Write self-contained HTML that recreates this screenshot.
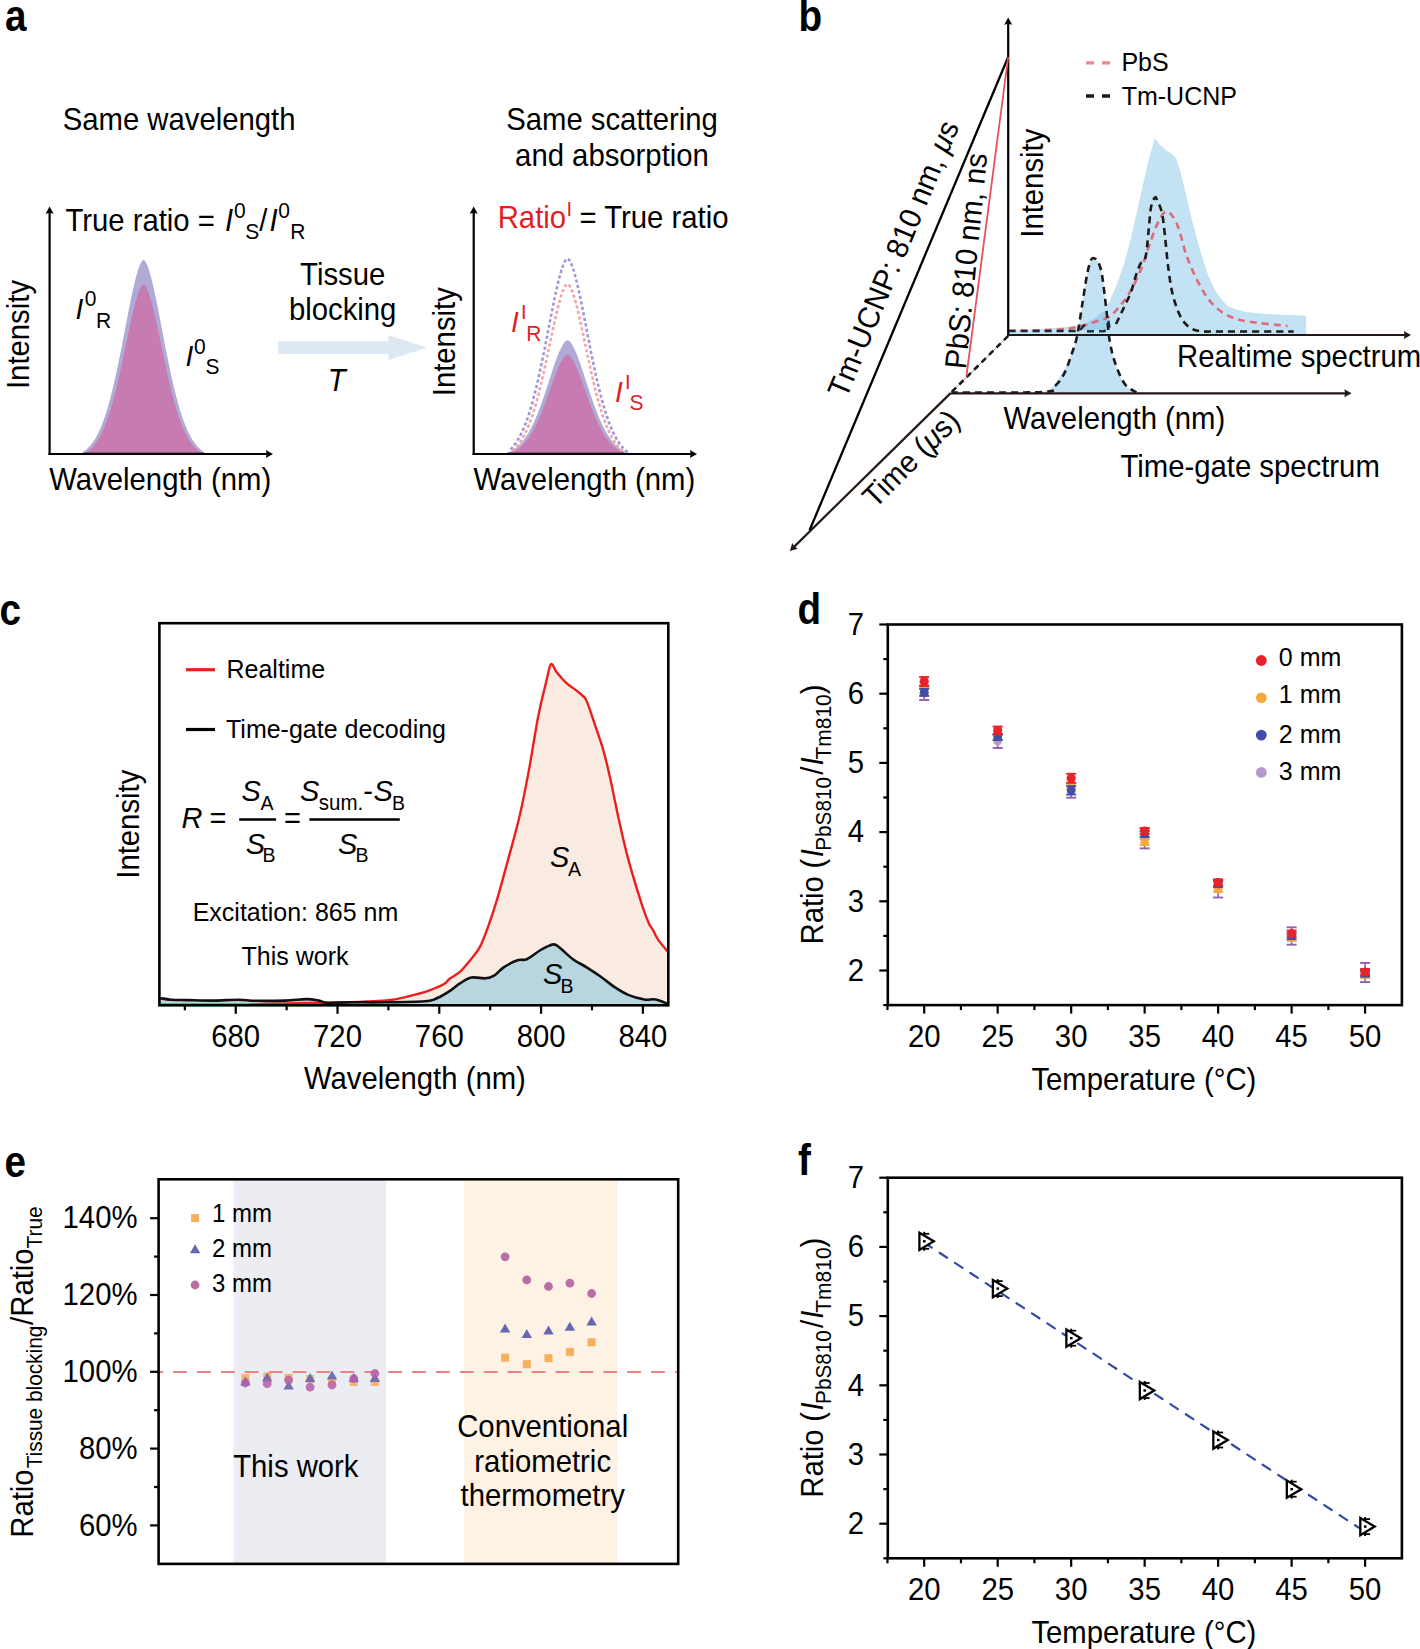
<!DOCTYPE html>
<html><head><meta charset="utf-8"><style>
html,body{margin:0;padding:0;background:#fff;overflow:hidden;}
svg{display:block;}
text{font-family:"Liberation Sans", sans-serif;}
</style></head><body>
<svg width="1420" height="1649" viewBox="0 0 1420 1649">
<rect width="1420" height="1649" fill="#fff"/>
<text x="5.00" y="31.30" font-size="42" font-weight="bold" transform="translate(5.00 31.30) scale(0.92 1.04) translate(-5.00 -31.30)">a</text>
<text x="798.50" y="30.50" font-size="42" font-weight="bold" transform="translate(798.50 30.50) scale(0.92 1.04) translate(-798.50 -30.50)">b</text>
<text x="-0.50" y="625.50" font-size="42" font-weight="bold" transform="translate(-0.50 625.50) scale(0.92 1.04) translate(0.50 -625.50)">c</text>
<text x="797.50" y="623.80" font-size="42" font-weight="bold" transform="translate(797.50 623.80) scale(0.92 1.04) translate(-797.50 -623.80)">d</text>
<text x="4.50" y="1176.80" font-size="42" font-weight="bold" transform="translate(4.50 1176.80) scale(0.92 1.04) translate(-4.50 -1176.80)">e</text>
<text x="798.00" y="1175.10" font-size="42" font-weight="bold" transform="translate(798.00 1175.10) scale(0.92 1.04) translate(-798.00 -1175.10)">f</text>
<path d="M79.50,454.20 C79.74,454.08 80.45,453.72 80.92,453.46 C81.40,453.20 81.87,452.92 82.34,452.62 C82.82,452.32 83.29,452.01 83.77,451.67 C84.24,451.34 84.71,450.99 85.19,450.61 C85.66,450.23 86.14,449.83 86.61,449.41 C87.09,448.99 87.56,448.54 88.03,448.07 C88.51,447.60 88.98,447.10 89.46,446.57 C89.93,446.04 90.40,445.49 90.88,444.90 C91.35,444.32 91.83,443.70 92.30,443.05 C92.77,442.40 93.25,441.72 93.72,441.00 C94.20,440.28 94.67,439.53 95.14,438.74 C95.62,437.95 96.09,437.12 96.57,436.26 C97.04,435.39 97.51,434.48 97.99,433.53 C98.46,432.58 98.94,431.59 99.41,430.55 C99.89,429.52 100.36,428.44 100.83,427.31 C101.31,426.18 101.78,425.01 102.26,423.79 C102.73,422.57 103.20,421.31 103.68,419.99 C104.15,418.67 104.63,417.30 105.10,415.89 C105.57,414.47 106.05,413.00 106.52,411.48 C107.00,409.97 107.47,408.40 107.94,406.77 C108.42,405.15 108.89,403.48 109.37,401.76 C109.84,400.03 110.31,398.26 110.79,396.43 C111.26,394.61 111.74,392.73 112.21,390.80 C112.69,388.88 113.16,386.90 113.63,384.88 C114.11,382.86 114.58,380.79 115.06,378.68 C115.53,376.56 116.00,374.40 116.48,372.21 C116.95,370.01 117.43,367.77 117.90,365.49 C118.37,363.22 118.85,360.90 119.32,358.56 C119.80,356.22 120.27,353.84 120.74,351.44 C121.22,349.05 121.69,346.62 122.17,344.18 C122.64,341.74 123.11,339.27 123.59,336.81 C124.06,334.34 124.54,331.86 125.01,329.38 C125.49,326.91 125.96,324.42 126.43,321.95 C126.91,319.48 127.38,317.02 127.86,314.58 C128.33,312.14 128.80,309.71 129.28,307.33 C129.75,304.94 130.23,302.58 130.70,300.27 C131.17,297.96 131.65,295.68 132.12,293.48 C132.60,291.27 133.07,289.11 133.54,287.03 C134.02,284.96 134.49,282.94 134.97,281.02 C135.44,279.11 135.91,277.26 136.39,275.54 C136.86,273.81 137.34,272.18 137.81,270.68 C138.29,269.18 138.76,267.78 139.23,266.54 C139.71,265.31 140.18,264.18 140.66,263.26 C141.13,262.33 141.60,261.52 142.08,260.98 C142.55,260.44 143.03,260.00 143.50,260.00 C143.97,260.00 144.45,260.44 144.92,260.98 C145.40,261.52 145.87,262.33 146.34,263.26 C146.82,264.18 147.29,265.31 147.77,266.54 C148.24,267.78 148.71,269.18 149.19,270.68 C149.66,272.18 150.14,273.81 150.61,275.54 C151.09,277.26 151.56,279.11 152.03,281.02 C152.51,282.94 152.98,284.96 153.46,287.03 C153.93,289.11 154.40,291.27 154.88,293.48 C155.35,295.68 155.83,297.96 156.30,300.27 C156.77,302.58 157.25,304.94 157.72,307.33 C158.20,309.71 158.67,312.14 159.14,314.58 C159.62,317.02 160.09,319.48 160.57,321.95 C161.04,324.42 161.51,326.91 161.99,329.38 C162.46,331.86 162.94,334.34 163.41,336.81 C163.89,339.27 164.36,341.74 164.83,344.18 C165.31,346.62 165.78,349.05 166.26,351.44 C166.73,353.84 167.20,356.22 167.68,358.56 C168.15,360.90 168.63,363.22 169.10,365.49 C169.57,367.77 170.05,370.01 170.52,372.21 C171.00,374.40 171.47,376.56 171.94,378.68 C172.42,380.79 172.89,382.86 173.37,384.88 C173.84,386.90 174.31,388.88 174.79,390.80 C175.26,392.73 175.74,394.61 176.21,396.43 C176.69,398.26 177.16,400.03 177.63,401.76 C178.11,403.48 178.58,405.15 179.06,406.77 C179.53,408.40 180.00,409.97 180.48,411.48 C180.95,413.00 181.43,414.47 181.90,415.89 C182.37,417.30 182.85,418.67 183.32,419.99 C183.80,421.31 184.27,422.57 184.74,423.79 C185.22,425.01 185.69,426.18 186.17,427.31 C186.64,428.44 187.11,429.52 187.59,430.55 C188.06,431.59 188.54,432.58 189.01,433.53 C189.49,434.48 189.96,435.39 190.43,436.26 C190.91,437.12 191.38,437.95 191.86,438.74 C192.33,439.53 192.80,440.28 193.28,441.00 C193.75,441.72 194.23,442.40 194.70,443.05 C195.17,443.70 195.65,444.32 196.12,444.90 C196.60,445.49 197.07,446.04 197.54,446.57 C198.02,447.10 198.49,447.60 198.97,448.07 C199.44,448.54 199.91,448.99 200.39,449.41 C200.86,449.83 201.34,450.23 201.81,450.61 C202.29,450.99 202.76,451.34 203.23,451.67 C203.71,452.01 204.18,452.32 204.66,452.62 C205.13,452.92 205.60,453.20 206.08,453.46 C206.55,453.72 207.26,454.08 207.50,454.20 Z" fill="#AFAAD6" stroke="none" stroke-width="2"/>
<path d="M83.50,454.20 C83.72,454.08 84.39,453.73 84.83,453.48 C85.28,453.22 85.72,452.95 86.17,452.66 C86.61,452.37 87.06,452.07 87.50,451.75 C87.94,451.43 88.39,451.09 88.83,450.72 C89.28,450.36 89.72,449.98 90.17,449.58 C90.61,449.18 91.06,448.75 91.50,448.31 C91.94,447.86 92.39,447.39 92.83,446.89 C93.28,446.39 93.72,445.87 94.17,445.32 C94.61,444.77 95.06,444.20 95.50,443.59 C95.94,442.99 96.39,442.35 96.83,441.69 C97.28,441.02 97.72,440.32 98.17,439.59 C98.61,438.86 99.06,438.10 99.50,437.30 C99.94,436.50 100.39,435.67 100.83,434.80 C101.28,433.93 101.72,433.03 102.17,432.09 C102.61,431.14 103.06,430.16 103.50,429.14 C103.94,428.12 104.39,427.06 104.83,425.95 C105.28,424.85 105.72,423.71 106.17,422.53 C106.61,421.34 107.06,420.12 107.50,418.85 C107.94,417.58 108.39,416.27 108.83,414.91 C109.28,413.56 109.72,412.16 110.17,410.72 C110.61,409.28 111.06,407.80 111.50,406.27 C111.94,404.75 112.39,403.18 112.83,401.57 C113.28,399.96 113.72,398.30 114.17,396.61 C114.61,394.92 115.06,393.19 115.50,391.42 C115.94,389.65 116.39,387.84 116.83,385.99 C117.28,384.15 117.72,382.27 118.17,380.35 C118.61,378.44 119.06,376.49 119.50,374.52 C119.94,372.55 120.39,370.54 120.83,368.52 C121.28,366.49 121.72,364.44 122.17,362.37 C122.61,360.31 123.06,358.21 123.50,356.12 C123.94,354.02 124.39,351.90 124.83,349.78 C125.28,347.67 125.72,345.54 126.17,343.42 C126.61,341.30 127.06,339.18 127.50,337.07 C127.94,334.96 128.39,332.86 128.83,330.78 C129.28,328.70 129.72,326.64 130.17,324.61 C130.61,322.58 131.06,320.57 131.50,318.61 C131.94,316.65 132.39,314.72 132.83,312.85 C133.28,310.98 133.72,309.15 134.17,307.40 C134.61,305.64 135.06,303.94 135.50,302.32 C135.94,300.70 136.39,299.14 136.83,297.69 C137.28,296.23 137.72,294.85 138.17,293.59 C138.61,292.32 139.06,291.15 139.50,290.10 C139.94,289.06 140.39,288.12 140.83,287.34 C141.28,286.56 141.72,285.88 142.17,285.42 C142.61,284.97 143.06,284.60 143.50,284.60 C143.94,284.60 144.39,284.97 144.83,285.42 C145.28,285.88 145.72,286.56 146.17,287.34 C146.61,288.12 147.06,289.06 147.50,290.10 C147.94,291.15 148.39,292.32 148.83,293.59 C149.28,294.85 149.72,296.23 150.17,297.69 C150.61,299.14 151.06,300.70 151.50,302.32 C151.94,303.94 152.39,305.64 152.83,307.40 C153.28,309.15 153.72,310.98 154.17,312.85 C154.61,314.72 155.06,316.65 155.50,318.61 C155.94,320.57 156.39,322.58 156.83,324.61 C157.28,326.64 157.72,328.70 158.17,330.78 C158.61,332.86 159.06,334.96 159.50,337.07 C159.94,339.18 160.39,341.30 160.83,343.42 C161.28,345.54 161.72,347.67 162.17,349.78 C162.61,351.90 163.06,354.02 163.50,356.12 C163.94,358.21 164.39,360.31 164.83,362.37 C165.28,364.44 165.72,366.49 166.17,368.52 C166.61,370.54 167.06,372.55 167.50,374.52 C167.94,376.49 168.39,378.44 168.83,380.35 C169.28,382.27 169.72,384.15 170.17,385.99 C170.61,387.84 171.06,389.65 171.50,391.42 C171.94,393.19 172.39,394.92 172.83,396.61 C173.28,398.30 173.72,399.96 174.17,401.57 C174.61,403.18 175.06,404.75 175.50,406.27 C175.94,407.80 176.39,409.28 176.83,410.72 C177.28,412.16 177.72,413.56 178.17,414.91 C178.61,416.27 179.06,417.58 179.50,418.85 C179.94,420.12 180.39,421.34 180.83,422.53 C181.28,423.71 181.72,424.85 182.17,425.95 C182.61,427.06 183.06,428.12 183.50,429.14 C183.94,430.16 184.39,431.14 184.83,432.09 C185.28,433.03 185.72,433.93 186.17,434.80 C186.61,435.67 187.06,436.50 187.50,437.30 C187.94,438.10 188.39,438.86 188.83,439.59 C189.28,440.32 189.72,441.02 190.17,441.69 C190.61,442.35 191.06,442.99 191.50,443.59 C191.94,444.20 192.39,444.77 192.83,445.32 C193.28,445.87 193.72,446.39 194.17,446.89 C194.61,447.39 195.06,447.86 195.50,448.31 C195.94,448.75 196.39,449.18 196.83,449.58 C197.28,449.98 197.72,450.36 198.17,450.72 C198.61,451.09 199.06,451.43 199.50,451.75 C199.94,452.07 200.39,452.37 200.83,452.66 C201.28,452.95 201.72,453.22 202.17,453.48 C202.61,453.73 203.28,454.08 203.50,454.20 Z" fill="#C87BB1" stroke="none" stroke-width="2"/>
<path d="M503.50,454.20 C503.74,454.13 504.45,453.92 504.92,453.77 C505.40,453.61 505.87,453.45 506.34,453.27 C506.82,453.10 507.29,452.91 507.77,452.72 C508.24,452.52 508.71,452.31 509.19,452.09 C509.66,451.87 510.14,451.64 510.61,451.39 C511.09,451.14 511.56,450.88 512.03,450.60 C512.51,450.32 512.98,450.03 513.46,449.72 C513.93,449.41 514.40,449.09 514.88,448.74 C515.35,448.40 515.83,448.04 516.30,447.66 C516.77,447.27 517.25,446.87 517.72,446.45 C518.20,446.03 518.67,445.59 519.14,445.13 C519.62,444.66 520.09,444.18 520.57,443.67 C521.04,443.16 521.51,442.62 521.99,442.07 C522.46,441.51 522.94,440.93 523.41,440.32 C523.89,439.71 524.36,439.08 524.83,438.42 C525.31,437.75 525.78,437.07 526.26,436.35 C526.73,435.63 527.20,434.89 527.68,434.12 C528.15,433.34 528.63,432.54 529.10,431.71 C529.57,430.88 530.05,430.02 530.52,429.12 C531.00,428.23 531.47,427.31 531.94,426.36 C532.42,425.41 532.89,424.43 533.37,423.41 C533.84,422.40 534.31,421.36 534.79,420.29 C535.26,419.22 535.74,418.11 536.21,416.98 C536.69,415.85 537.16,414.69 537.63,413.51 C538.11,412.32 538.58,411.11 539.06,409.87 C539.53,408.63 540.00,407.36 540.48,406.07 C540.95,404.78 541.43,403.46 541.90,402.13 C542.37,400.79 542.85,399.43 543.32,398.06 C543.80,396.68 544.27,395.29 544.74,393.88 C545.22,392.47 545.69,391.05 546.17,389.61 C546.64,388.18 547.11,386.74 547.59,385.29 C548.06,383.84 548.54,382.38 549.01,380.93 C549.49,379.47 549.96,378.02 550.43,376.57 C550.91,375.12 551.38,373.67 551.86,372.24 C552.33,370.81 552.80,369.38 553.28,367.98 C553.75,366.58 554.23,365.19 554.70,363.84 C555.17,362.48 555.65,361.15 556.12,359.85 C556.60,358.56 557.07,357.29 557.54,356.07 C558.02,354.85 558.49,353.67 558.97,352.54 C559.44,351.42 559.91,350.33 560.39,349.32 C560.86,348.31 561.34,347.35 561.81,346.47 C562.29,345.59 562.76,344.77 563.23,344.04 C563.71,343.31 564.18,342.66 564.66,342.11 C565.13,341.57 565.60,341.09 566.08,340.78 C566.55,340.46 567.03,340.20 567.50,340.20 C567.97,340.20 568.45,340.46 568.92,340.78 C569.40,341.09 569.87,341.57 570.34,342.11 C570.82,342.66 571.29,343.31 571.77,344.04 C572.24,344.77 572.71,345.59 573.19,346.47 C573.66,347.35 574.14,348.31 574.61,349.32 C575.09,350.33 575.56,351.42 576.03,352.54 C576.51,353.67 576.98,354.85 577.46,356.07 C577.93,357.29 578.40,358.56 578.88,359.85 C579.35,361.15 579.83,362.48 580.30,363.84 C580.77,365.19 581.25,366.58 581.72,367.98 C582.20,369.38 582.67,370.81 583.14,372.24 C583.62,373.67 584.09,375.12 584.57,376.57 C585.04,378.02 585.51,379.47 585.99,380.93 C586.46,382.38 586.94,383.84 587.41,385.29 C587.89,386.74 588.36,388.18 588.83,389.61 C589.31,391.05 589.78,392.47 590.26,393.88 C590.73,395.29 591.20,396.68 591.68,398.06 C592.15,399.43 592.63,400.79 593.10,402.13 C593.57,403.46 594.05,404.78 594.52,406.07 C595.00,407.36 595.47,408.63 595.94,409.87 C596.42,411.11 596.89,412.32 597.37,413.51 C597.84,414.69 598.31,415.85 598.79,416.98 C599.26,418.11 599.74,419.22 600.21,420.29 C600.69,421.36 601.16,422.40 601.63,423.41 C602.11,424.43 602.58,425.41 603.06,426.36 C603.53,427.31 604.00,428.23 604.48,429.12 C604.95,430.02 605.43,430.88 605.90,431.71 C606.37,432.54 606.85,433.34 607.32,434.12 C607.80,434.89 608.27,435.63 608.74,436.35 C609.22,437.07 609.69,437.75 610.17,438.42 C610.64,439.08 611.11,439.71 611.59,440.32 C612.06,440.93 612.54,441.51 613.01,442.07 C613.49,442.62 613.96,443.16 614.43,443.67 C614.91,444.18 615.38,444.66 615.86,445.13 C616.33,445.59 616.80,446.03 617.28,446.45 C617.75,446.87 618.23,447.27 618.70,447.66 C619.17,448.04 619.65,448.40 620.12,448.74 C620.60,449.09 621.07,449.41 621.54,449.72 C622.02,450.03 622.49,450.32 622.97,450.60 C623.44,450.88 623.91,451.14 624.39,451.39 C624.86,451.64 625.34,451.87 625.81,452.09 C626.29,452.31 626.76,452.52 627.23,452.72 C627.71,452.91 628.18,453.10 628.66,453.27 C629.13,453.45 629.60,453.61 630.08,453.77 C630.55,453.92 631.26,454.13 631.50,454.20 Z" fill="#AFAAD6" stroke="none" stroke-width="2"/>
<path d="M507.50,454.20 C507.72,454.13 508.39,453.93 508.83,453.78 C509.28,453.63 509.72,453.47 510.17,453.30 C510.61,453.13 511.06,452.95 511.50,452.76 C511.94,452.57 512.39,452.37 512.83,452.16 C513.28,451.95 513.72,451.73 514.17,451.49 C514.61,451.26 515.06,451.01 515.50,450.75 C515.94,450.48 516.39,450.21 516.83,449.92 C517.28,449.62 517.72,449.32 518.17,449.00 C518.61,448.67 519.06,448.34 519.50,447.98 C519.94,447.63 520.39,447.26 520.83,446.87 C521.28,446.47 521.72,446.07 522.17,445.64 C522.61,445.21 523.06,444.76 523.50,444.30 C523.94,443.83 524.39,443.34 524.83,442.83 C525.28,442.32 525.72,441.79 526.17,441.24 C526.61,440.69 527.06,440.11 527.50,439.51 C527.94,438.91 528.39,438.29 528.83,437.65 C529.28,437.00 529.72,436.33 530.17,435.64 C530.61,434.94 531.06,434.22 531.50,433.48 C531.94,432.74 532.39,431.97 532.83,431.17 C533.28,430.38 533.72,429.56 534.17,428.72 C534.61,427.87 535.06,427.00 535.50,426.11 C535.94,425.22 536.39,424.30 536.83,423.35 C537.28,422.41 537.72,421.44 538.17,420.45 C538.61,419.46 539.06,418.44 539.50,417.40 C539.94,416.37 540.39,415.31 540.83,414.22 C541.28,413.14 541.72,412.04 542.17,410.92 C542.61,409.80 543.06,408.66 543.50,407.50 C543.94,406.35 544.39,405.17 544.83,403.98 C545.28,402.80 545.72,401.59 546.17,400.38 C546.61,399.17 547.06,397.94 547.50,396.71 C547.94,395.48 548.39,394.24 548.83,393.00 C549.28,391.76 549.72,390.52 550.17,389.27 C550.61,388.03 551.06,386.79 551.50,385.55 C551.94,384.32 552.39,383.08 552.83,381.87 C553.28,380.65 553.72,379.44 554.17,378.25 C554.61,377.06 555.06,375.88 555.50,374.73 C555.94,373.59 556.39,372.45 556.83,371.36 C557.28,370.26 557.72,369.19 558.17,368.16 C558.61,367.13 559.06,366.13 559.50,365.18 C559.94,364.24 560.39,363.32 560.83,362.47 C561.28,361.62 561.72,360.81 562.17,360.07 C562.61,359.33 563.06,358.64 563.50,358.03 C563.94,357.42 564.39,356.86 564.83,356.41 C565.28,355.95 565.72,355.55 566.17,355.28 C566.61,355.02 567.06,354.80 567.50,354.80 C567.94,354.80 568.39,355.02 568.83,355.28 C569.28,355.55 569.72,355.95 570.17,356.41 C570.61,356.86 571.06,357.42 571.50,358.03 C571.94,358.64 572.39,359.33 572.83,360.07 C573.28,360.81 573.72,361.62 574.17,362.47 C574.61,363.32 575.06,364.24 575.50,365.18 C575.94,366.13 576.39,367.13 576.83,368.16 C577.28,369.19 577.72,370.26 578.17,371.36 C578.61,372.45 579.06,373.59 579.50,374.73 C579.94,375.88 580.39,377.06 580.83,378.25 C581.28,379.44 581.72,380.65 582.17,381.87 C582.61,383.08 583.06,384.32 583.50,385.55 C583.94,386.79 584.39,388.03 584.83,389.27 C585.28,390.52 585.72,391.76 586.17,393.00 C586.61,394.24 587.06,395.48 587.50,396.71 C587.94,397.94 588.39,399.17 588.83,400.38 C589.28,401.59 589.72,402.80 590.17,403.98 C590.61,405.17 591.06,406.35 591.50,407.50 C591.94,408.66 592.39,409.80 592.83,410.92 C593.28,412.04 593.72,413.14 594.17,414.22 C594.61,415.31 595.06,416.37 595.50,417.40 C595.94,418.44 596.39,419.46 596.83,420.45 C597.28,421.44 597.72,422.41 598.17,423.35 C598.61,424.30 599.06,425.22 599.50,426.11 C599.94,427.00 600.39,427.87 600.83,428.72 C601.28,429.56 601.72,430.38 602.17,431.17 C602.61,431.97 603.06,432.74 603.50,433.48 C603.94,434.22 604.39,434.94 604.83,435.64 C605.28,436.33 605.72,437.00 606.17,437.65 C606.61,438.29 607.06,438.91 607.50,439.51 C607.94,440.11 608.39,440.69 608.83,441.24 C609.28,441.79 609.72,442.32 610.17,442.83 C610.61,443.34 611.06,443.83 611.50,444.30 C611.94,444.76 612.39,445.21 612.83,445.64 C613.28,446.07 613.72,446.47 614.17,446.87 C614.61,447.26 615.06,447.63 615.50,447.98 C615.94,448.34 616.39,448.67 616.83,449.00 C617.28,449.32 617.72,449.62 618.17,449.92 C618.61,450.21 619.06,450.48 619.50,450.75 C619.94,451.01 620.39,451.26 620.83,451.49 C621.28,451.73 621.72,451.95 622.17,452.16 C622.61,452.37 623.06,452.57 623.50,452.76 C623.94,452.95 624.39,453.13 624.83,453.30 C625.28,453.47 625.72,453.63 626.17,453.78 C626.61,453.93 627.28,454.13 627.50,454.20 Z" fill="#C87BB1" stroke="none" stroke-width="2"/>
<line x1="83.50" y1="453.40" x2="203.50" y2="453.40" stroke="#5B2A5A" stroke-width="1.6"/>
<line x1="507.50" y1="453.40" x2="627.50" y2="453.40" stroke="#5B2A5A" stroke-width="1.6"/>
<path d="M510.50,449.45 C510.72,449.22 511.39,448.55 511.83,448.06 C512.28,447.57 512.72,447.06 513.17,446.53 C513.61,445.99 514.06,445.43 514.50,444.84 C514.94,444.25 515.39,443.64 515.83,442.99 C516.28,442.35 516.72,441.68 517.17,440.97 C517.61,440.27 518.06,439.53 518.50,438.76 C518.94,437.99 519.39,437.19 519.83,436.36 C520.28,435.52 520.72,434.65 521.17,433.75 C521.61,432.84 522.06,431.90 522.50,430.92 C522.94,429.94 523.39,428.92 523.83,427.87 C524.28,426.81 524.72,425.72 525.17,424.58 C525.61,423.44 526.06,422.27 526.50,421.05 C526.94,419.83 527.39,418.57 527.83,417.27 C528.28,415.97 528.72,414.63 529.17,413.24 C529.61,411.85 530.06,410.43 530.50,408.95 C530.94,407.48 531.39,405.96 531.83,404.40 C532.28,402.85 532.72,401.24 533.17,399.60 C533.61,397.95 534.06,396.26 534.50,394.53 C534.94,392.80 535.39,391.03 535.83,389.22 C536.28,387.40 536.72,385.55 537.17,383.66 C537.61,381.76 538.06,379.83 538.50,377.86 C538.94,375.89 539.39,373.89 539.83,371.85 C540.28,369.81 540.72,367.73 541.17,365.63 C541.61,363.53 542.06,361.39 542.50,359.23 C542.94,357.07 543.39,354.88 543.83,352.67 C544.28,350.47 544.72,348.23 545.17,345.99 C545.61,343.74 546.06,341.47 546.50,339.20 C546.94,336.93 547.39,334.64 547.83,332.35 C548.28,330.06 548.72,327.77 549.17,325.48 C549.61,323.19 550.06,320.90 550.50,318.63 C550.94,316.36 551.39,314.09 551.83,311.85 C552.28,309.61 552.72,307.38 553.17,305.19 C553.61,303.00 554.06,300.82 554.50,298.70 C554.94,296.58 555.39,294.48 555.83,292.45 C556.28,290.41 556.72,288.42 557.17,286.49 C557.61,284.56 558.06,282.69 558.50,280.89 C558.94,279.10 559.39,277.36 559.83,275.73 C560.28,274.09 560.72,272.52 561.17,271.06 C561.61,269.60 562.06,268.23 562.50,266.98 C562.94,265.73 563.39,264.58 563.83,263.57 C564.28,262.56 564.72,261.66 565.17,260.93 C565.61,260.21 566.06,259.57 566.50,259.21 C566.94,258.85 567.39,258.65 567.83,258.78 C568.28,258.90 568.72,259.38 569.17,259.95 C569.61,260.51 570.06,261.27 570.50,262.15 C570.94,263.02 571.39,264.05 571.83,265.18 C572.28,266.32 572.72,267.59 573.17,268.94 C573.61,270.30 574.06,271.77 574.50,273.33 C574.94,274.88 575.39,276.53 575.83,278.25 C576.28,279.97 576.72,281.78 577.17,283.64 C577.61,285.51 578.06,287.45 578.50,289.43 C578.94,291.41 579.39,293.46 579.83,295.54 C580.28,297.62 580.72,299.76 581.17,301.92 C581.61,304.08 582.06,306.28 582.50,308.50 C582.94,310.72 583.39,312.97 583.83,315.23 C584.28,317.49 584.72,319.77 585.17,322.05 C585.61,324.33 586.06,326.63 586.50,328.92 C586.94,331.20 587.39,333.50 587.83,335.78 C588.28,338.06 588.72,340.34 589.17,342.60 C589.61,344.86 590.06,347.12 590.50,349.34 C590.94,351.57 591.39,353.78 591.83,355.97 C592.28,358.15 592.72,360.32 593.17,362.45 C593.61,364.58 594.06,366.69 594.50,368.76 C594.94,370.83 595.39,372.88 595.83,374.88 C596.28,376.88 596.72,378.86 597.17,380.79 C597.61,382.72 598.06,384.61 598.50,386.47 C598.94,388.32 599.39,390.13 599.83,391.91 C600.28,393.68 600.72,395.41 601.17,397.10 C601.61,398.78 602.06,400.43 602.50,402.03 C602.94,403.64 603.39,405.19 603.83,406.71 C604.28,408.23 604.72,409.70 605.17,411.13 C605.61,412.56 606.06,413.95 606.50,415.29 C606.94,416.63 607.39,417.93 607.83,419.19 C608.28,420.45 608.72,421.67 609.17,422.85 C609.61,424.02 610.06,425.16 610.50,426.25 C610.94,427.35 611.39,428.40 611.83,429.42 C612.28,430.44 612.72,431.42 613.17,432.36 C613.61,433.30 614.06,434.21 614.50,435.08 C614.94,435.95 615.39,436.78 615.83,437.58 C616.28,438.39 616.72,439.15 617.17,439.89 C617.61,440.63 618.06,441.33 618.50,442.01 C618.94,442.68 619.39,443.32 619.83,443.94 C620.28,444.56 620.72,445.14 621.17,445.71 C621.61,446.27 622.06,446.80 622.50,447.31 C622.94,447.82 623.39,448.31 623.83,448.77 C624.28,449.24 624.72,449.67 625.17,450.09 C625.61,450.51 626.06,450.91 626.50,451.29 C626.94,451.67 627.39,452.02 627.83,452.36 C628.28,452.70 628.72,453.03 629.17,453.33 C629.61,453.64 630.28,454.06 630.50,454.20" fill="none" stroke="#9D98D8" stroke-width="2.6" stroke-dasharray="3.2 2.4"/>
<path d="M512.50,450.84 C512.71,450.65 513.36,450.11 513.79,449.72 C514.22,449.33 514.65,448.92 515.08,448.48 C515.51,448.05 515.94,447.59 516.37,447.11 C516.80,446.63 517.23,446.13 517.66,445.60 C518.09,445.07 518.51,444.52 518.94,443.94 C519.37,443.36 519.80,442.75 520.23,442.12 C520.66,441.48 521.09,440.82 521.52,440.12 C521.95,439.43 522.38,438.71 522.81,437.95 C523.24,437.19 523.67,436.41 524.10,435.59 C524.53,434.77 524.96,433.91 525.39,433.02 C525.82,432.13 526.25,431.21 526.68,430.25 C527.11,429.29 527.54,428.30 527.97,427.26 C528.40,426.23 528.83,425.16 529.26,424.05 C529.69,422.95 530.11,421.80 530.54,420.61 C530.97,419.43 531.40,418.20 531.83,416.94 C532.26,415.68 532.69,414.37 533.12,413.03 C533.55,411.69 533.98,410.31 534.41,408.89 C534.84,407.46 535.27,406.00 535.70,404.50 C536.13,403.00 536.56,401.46 536.99,399.89 C537.42,398.31 537.85,396.69 538.28,395.04 C538.71,393.39 539.14,391.70 539.57,389.98 C540.00,388.26 540.43,386.50 540.86,384.71 C541.29,382.92 541.71,381.10 542.14,379.25 C542.57,377.40 543.00,375.52 543.43,373.61 C543.86,371.71 544.29,369.77 544.72,367.82 C545.15,365.87 545.58,363.89 546.01,361.90 C546.44,359.91 546.87,357.89 547.30,355.88 C547.73,353.86 548.16,351.82 548.59,349.79 C549.02,347.75 549.45,345.70 549.88,343.66 C550.31,341.63 550.74,339.58 551.17,337.55 C551.60,335.52 552.03,333.49 552.46,331.49 C552.89,329.48 553.31,327.49 553.74,325.53 C554.17,323.56 554.60,321.62 555.03,319.71 C555.46,317.81 555.89,315.93 556.32,314.10 C556.75,312.28 557.18,310.48 557.61,308.75 C558.04,307.02 558.47,305.34 558.90,303.73 C559.33,302.12 559.76,300.56 560.19,299.09 C560.62,297.62 561.05,296.21 561.48,294.90 C561.91,293.60 562.34,292.37 562.77,291.25 C563.20,290.13 563.63,289.10 564.06,288.21 C564.49,287.31 564.91,286.51 565.34,285.87 C565.77,285.24 566.20,284.68 566.63,284.39 C567.06,284.09 567.49,283.97 567.92,284.11 C568.35,284.26 568.78,284.72 569.21,285.26 C569.64,285.79 570.07,286.51 570.50,287.32 C570.93,288.13 571.36,289.08 571.79,290.13 C572.22,291.17 572.65,292.34 573.08,293.58 C573.51,294.82 573.94,296.17 574.37,297.59 C574.80,299.01 575.23,300.52 575.66,302.08 C576.09,303.65 576.51,305.29 576.94,306.98 C577.37,308.67 577.80,310.43 578.23,312.23 C578.66,314.02 579.09,315.87 579.52,317.75 C579.95,319.63 580.38,321.56 580.81,323.50 C581.24,325.45 581.67,327.43 582.10,329.42 C582.53,331.41 582.96,333.43 583.39,335.45 C583.82,337.48 584.25,339.52 584.68,341.55 C585.11,343.59 585.54,345.64 585.97,347.68 C586.40,349.72 586.83,351.76 587.26,353.78 C587.69,355.81 588.11,357.83 588.54,359.83 C588.97,361.83 589.40,363.82 589.83,365.79 C590.26,367.76 590.69,369.71 591.12,371.63 C591.55,373.55 591.98,375.45 592.41,377.32 C592.84,379.19 593.27,381.04 593.70,382.85 C594.13,384.66 594.56,386.44 594.99,388.19 C595.42,389.93 595.85,391.65 596.28,393.32 C596.71,395.00 597.14,396.64 597.57,398.24 C598.00,399.84 598.43,401.41 598.86,402.94 C599.29,404.46 599.71,405.95 600.14,407.40 C600.57,408.85 601.00,410.26 601.43,411.63 C601.86,413.00 602.29,414.33 602.72,415.62 C603.15,416.91 603.58,418.16 604.01,419.37 C604.44,420.59 604.87,421.76 605.30,422.89 C605.73,424.03 606.16,425.12 606.59,426.18 C607.02,427.24 607.45,428.26 607.88,429.25 C608.31,430.23 608.74,431.18 609.17,432.09 C609.60,433.00 610.03,433.88 610.46,434.73 C610.89,435.57 611.31,436.38 611.74,437.16 C612.17,437.94 612.60,438.68 613.03,439.40 C613.46,440.11 613.89,440.79 614.32,441.45 C614.75,442.10 615.18,442.73 615.61,443.33 C616.04,443.93 616.47,444.50 616.90,445.05 C617.33,445.59 617.76,446.11 618.19,446.61 C618.62,447.10 619.05,447.57 619.48,448.02 C619.91,448.48 620.34,448.90 620.77,449.31 C621.20,449.72 621.63,450.10 622.06,450.47 C622.49,450.84 622.91,451.18 623.34,451.51 C623.77,451.84 624.20,452.15 624.63,452.45 C625.06,452.75 625.49,453.03 625.92,453.29 C626.35,453.56 626.78,453.89 627.21,454.04 C627.64,454.19 628.29,454.17 628.50,454.20" fill="none" stroke="#F4A4A8" stroke-width="2.6" stroke-dasharray="3.2 2.4"/>
<line x1="49.60" y1="455.00" x2="49.60" y2="210.82" stroke="#000" stroke-width="2.2"/>
<path d="M53.60,213.70 L49.60,206.50 L45.60,213.70 L49.60,212.84 Z" fill="#000" stroke="none" stroke-width="2"/>
<line x1="48.50" y1="454.00" x2="268.68" y2="454.00" stroke="#000" stroke-width="2.2"/>
<path d="M265.80,458.00 L273.00,454.00 L265.80,450.00 L266.66,454.00 Z" fill="#000" stroke="none" stroke-width="2"/>
<line x1="473.70" y1="455.00" x2="473.70" y2="210.82" stroke="#000" stroke-width="2.2"/>
<path d="M477.70,213.70 L473.70,206.50 L469.70,213.70 L473.70,212.84 Z" fill="#000" stroke="none" stroke-width="2"/>
<line x1="472.60" y1="454.00" x2="692.78" y2="454.00" stroke="#000" stroke-width="2.2"/>
<path d="M689.90,458.00 L697.10,454.00 L689.90,450.00 L690.76,454.00 Z" fill="#000" stroke="none" stroke-width="2"/>
<text x="62.70" y="130.30" font-size="29.3" transform="translate(62.70 130.30) scale(1.0 1.04) translate(-62.70 -130.30)">Same wavelength</text>
<text x="612.00" y="130.50" font-size="29.3" text-anchor="middle" transform="translate(612.00 130.50) scale(1.0 1.04) translate(-612.00 -130.50)">Same scattering</text>
<text x="612.00" y="165.70" font-size="29.3" text-anchor="middle" transform="translate(612.00 165.70) scale(1.0 1.04) translate(-612.00 -165.70)">and absorption</text>
<text x="65.40" y="230.70" font-size="29.3" transform="translate(65.40 230.70) scale(1.0 1.04) translate(-65.40 -230.70)">True ratio =</text>
<text x="225.00" y="230.70" font-size="29.3" font-style="italic" transform="translate(225.00 230.70) scale(1.0 1.04) translate(-225.00 -230.70)">I</text>
<text x="234.00" y="218.10" font-size="21" transform="translate(234.00 218.10) scale(1.0 1.04) translate(-234.00 -218.10)">0</text>
<text x="245.20" y="238.70" font-size="21" transform="translate(245.20 238.70) scale(1.0 1.04) translate(-245.20 -238.70)">S</text>
<text x="259.30" y="230.70" font-size="29.3" transform="translate(259.30 230.70) scale(1.0 1.04) translate(-259.30 -230.70)">/</text>
<text x="269.40" y="230.70" font-size="29.3" font-style="italic" transform="translate(269.40 230.70) scale(1.0 1.04) translate(-269.40 -230.70)">I</text>
<text x="278.30" y="218.10" font-size="21" transform="translate(278.30 218.10) scale(1.0 1.04) translate(-278.30 -218.10)">0</text>
<text x="290.20" y="238.70" font-size="21" transform="translate(290.20 238.70) scale(1.0 1.04) translate(-290.20 -238.70)">R</text>
<g transform="translate(29.40 334.50) rotate(-90)">
<text x="0.00" y="0.00" font-size="29.3" text-anchor="middle" transform="translate(0.00 0.00) scale(1.0 1.04) translate(0.00 0.00)">Intensity</text>
</g>
<g transform="translate(455.20 341.70) rotate(-90)">
<text x="0.00" y="0.00" font-size="29.3" text-anchor="middle" transform="translate(0.00 0.00) scale(1.0 1.04) translate(0.00 0.00)">Intensity</text>
</g>
<text x="49.30" y="489.70" font-size="29.3" transform="translate(49.30 489.70) scale(1.0 1.04) translate(-49.30 -489.70)">Wavelength (nm)</text>
<text x="473.40" y="489.70" font-size="29.3" transform="translate(473.40 489.70) scale(1.0 1.04) translate(-473.40 -489.70)">Wavelength (nm)</text>
<text x="75.60" y="318.70" font-size="28" font-style="italic" transform="translate(75.60 318.70) scale(1.0 1.04) translate(-75.60 -318.70)">I</text>
<text x="84.80" y="306.30" font-size="21" transform="translate(84.80 306.30) scale(1.0 1.04) translate(-84.80 -306.30)">0</text>
<text x="96.00" y="327.70" font-size="21" transform="translate(96.00 327.70) scale(1.0 1.04) translate(-96.00 -327.70)">R</text>
<text x="185.50" y="366.10" font-size="28" font-style="italic" transform="translate(185.50 366.10) scale(1.0 1.04) translate(-185.50 -366.10)">I</text>
<text x="194.10" y="353.70" font-size="21" transform="translate(194.10 353.70) scale(1.0 1.04) translate(-194.10 -353.70)">0</text>
<text x="205.60" y="374.50" font-size="21" transform="translate(205.60 374.50) scale(1.0 1.04) translate(-205.60 -374.50)">S</text>
<text x="342.70" y="285.40" font-size="29.3" text-anchor="middle" transform="translate(342.70 285.40) scale(1.0 1.04) translate(-342.70 -285.40)">Tissue</text>
<text x="342.70" y="320.50" font-size="29.3" text-anchor="middle" transform="translate(342.70 320.50) scale(1.0 1.04) translate(-342.70 -320.50)">blocking</text>
<path d="M278.3,341.3 L388.5,341.3 L388.5,335.3 L427.3,347.6 L388.5,360 L388.5,354 L278.3,354 Z" fill="#DDE8F2" stroke="none" stroke-width="2"/>
<text x="336.60" y="391.10" font-size="29.3" text-anchor="middle" font-style="italic" transform="translate(336.60 391.10) scale(1.0 1.04) translate(-336.60 -391.10)">T</text>
<text x="497.70" y="228.50" font-size="29.3" fill="#E21E24" transform="translate(497.70 228.50) scale(1.0 1.04) translate(-497.70 -228.50)">Ratio</text>
<text x="566.50" y="216.10" font-size="20" fill="#E21E24" transform="translate(566.50 216.10) scale(1.0 1.04) translate(-566.50 -216.10)">I</text>
<text x="579.50" y="228.50" font-size="29.3" transform="translate(579.50 228.50) scale(1.0 1.04) translate(-579.50 -228.50)">= True ratio</text>
<text x="511.00" y="332.10" font-size="28" fill="#E21E24" font-style="italic" transform="translate(511.00 332.10) scale(1.0 1.04) translate(-511.00 -332.10)">I</text>
<text x="521.00" y="319.40" font-size="20" fill="#E21E24" transform="translate(521.00 319.40) scale(1.0 1.04) translate(-521.00 -319.40)">I</text>
<text x="526.30" y="340.70" font-size="21" fill="#E21E24" transform="translate(526.30 340.70) scale(1.0 1.04) translate(-526.30 -340.70)">R</text>
<text x="615.00" y="402.10" font-size="28" fill="#E21E24" font-style="italic" transform="translate(615.00 402.10) scale(1.0 1.04) translate(-615.00 -402.10)">I</text>
<text x="625.00" y="388.80" font-size="20" fill="#E21E24" transform="translate(625.00 388.80) scale(1.0 1.04) translate(-625.00 -388.80)">I</text>
<text x="629.50" y="410.10" font-size="21" fill="#E21E24" transform="translate(629.50 410.10) scale(1.0 1.04) translate(-629.50 -410.10)">S</text>
<path d="M1008.60,330.30 L1045.00,328.80 L1083.00,325.50 L1095.00,320.00 L1103.00,312.00 L1110.00,300.00 L1117.00,284.00 L1124.00,264.00 L1131.00,238.00 L1138.00,207.00 L1144.00,180.00 L1149.00,158.00 L1155.00,138.50 L1160.00,145.00 L1166.00,150.00 L1172.00,154.00 L1176.00,158.00 L1180.00,170.00 L1185.00,190.00 L1192.00,220.00 L1200.00,250.00 L1208.00,275.00 L1215.40,291.00 L1222.00,300.00 L1227.00,305.50 L1235.00,309.00 L1245.60,312.00 L1268.90,314.20 L1306.10,315.80 L1306.1,334 L1008.6,334 Z" fill="#C3E2F3" stroke="none" stroke-width="2" stroke-linejoin="round"/>
<path d="M1040.00,392.50 C1041.67,391.92 1046.83,391.42 1050.00,389.00 C1053.17,386.58 1055.83,382.83 1059.00,378.00 C1062.17,373.17 1065.98,366.98 1069.00,360.00 C1072.02,353.02 1074.93,345.10 1077.10,336.10 C1079.27,327.10 1080.35,316.18 1082.00,306.00 C1083.65,295.82 1085.50,282.67 1087.00,275.00 C1088.50,267.33 1089.77,262.77 1091.00,260.00 C1092.23,257.23 1093.20,258.07 1094.40,258.40 C1095.60,258.73 1096.93,259.23 1098.20,262.00 C1099.47,264.77 1100.63,267.00 1102.00,275.00 C1103.37,283.00 1105.12,299.03 1106.40,310.00 C1107.68,320.97 1108.18,331.80 1109.70,340.80 C1111.22,349.80 1112.98,356.80 1115.50,364.00 C1118.02,371.20 1121.32,379.27 1124.80,384.00 C1128.28,388.73 1134.47,391.00 1136.40,392.40 Z" fill="#C3E2F3" stroke="none" stroke-width="2"/>
<path d="M1083.00,325.00 C1085.00,323.83 1091.17,320.17 1095.00,318.00 C1098.83,315.83 1103.50,310.00 1106.00,312.00 C1108.50,314.00 1109.33,327.00 1110.00,330.00 L1083,330 Z" fill="#9FD0EE" stroke="none" stroke-width="2"/>
<path d="M1008.60,330.80 C1017.12,330.58 1047.30,330.38 1059.70,329.50 C1072.10,328.62 1076.28,327.08 1083.00,325.50 C1089.72,323.92 1095.62,321.45 1100.00,320.00 C1104.38,318.55 1105.95,319.15 1109.30,316.80 C1112.65,314.45 1116.48,310.30 1120.10,305.90 C1123.72,301.50 1127.38,296.85 1131.00,290.40 C1134.62,283.95 1138.70,274.93 1141.80,267.20 C1144.90,259.47 1146.75,251.75 1149.60,244.00 C1152.45,236.25 1155.93,226.13 1158.90,220.70 C1161.87,215.27 1164.30,210.62 1167.40,211.40 C1170.50,212.18 1174.27,217.92 1177.50,225.40 C1180.73,232.88 1183.18,246.50 1186.80,256.30 C1190.42,266.10 1195.08,276.45 1199.20,284.20 C1203.32,291.95 1206.87,297.63 1211.50,302.80 C1216.13,307.97 1221.05,312.10 1227.00,315.20 C1232.95,318.30 1237.12,319.60 1247.20,321.40 C1257.28,323.20 1280.78,325.23 1287.50,326.00" fill="none" stroke="#DC6B7B" stroke-width="2.6" stroke-dasharray="7 5"/>
<path d="M1116.00,324.00 C1117.20,321.50 1120.70,314.33 1123.20,309.00 C1125.70,303.67 1128.93,297.42 1131.00,292.00 C1133.07,286.58 1134.05,281.17 1135.60,276.50 C1137.15,271.83 1138.87,266.58 1140.30,264.00 C1141.73,261.42 1143.17,263.05 1144.20,261.00 C1145.23,258.95 1145.73,257.12 1146.50,251.70 C1147.27,246.28 1148.03,235.98 1148.80,228.50 C1149.57,221.02 1150.07,211.97 1151.10,206.80 C1152.13,201.63 1153.97,198.53 1155.00,197.50 C1156.03,196.47 1156.13,198.02 1157.30,200.60 C1158.47,203.18 1160.72,207.07 1162.00,213.00 C1163.28,218.93 1163.97,227.17 1165.00,236.20 C1166.03,245.23 1166.90,257.40 1168.20,267.20 C1169.50,277.00 1170.73,286.73 1172.80,295.00 C1174.87,303.27 1177.75,311.37 1180.60,316.80 C1183.45,322.23 1186.55,325.18 1189.90,327.60 C1193.25,330.02 1196.52,330.65 1200.70,331.30 C1204.88,331.95 1199.50,331.47 1215.00,331.50 C1230.50,331.53 1280.58,331.50 1293.70,331.50" fill="none" stroke="#1E1A1A" stroke-width="2.6" stroke-dasharray="7 5"/>
<path d="M1008.60,331.00 L1079.00,331.00 L1085.00,324.50" fill="none" stroke="#1E2A33" stroke-width="2.6" stroke-dasharray="7 5"/>
<path d="M1087.00,331.40 L1104.00,331.20 L1109.50,328.50 L1108.00,318.00" fill="none" stroke="#1E3A4A" stroke-width="2.6" stroke-dasharray="7 5"/>
<path d="M951.00,392.50 C966.42,392.40 1026.17,392.98 1043.50,391.90 C1060.83,390.82 1051.58,388.98 1055.00,386.00 C1058.42,383.02 1061.33,379.00 1064.00,374.00 C1066.67,369.00 1068.82,362.32 1071.00,356.00 C1073.18,349.68 1075.27,344.43 1077.10,336.10 C1078.93,327.77 1080.35,316.18 1082.00,306.00 C1083.65,295.82 1085.50,282.67 1087.00,275.00 C1088.50,267.33 1089.77,262.77 1091.00,260.00 C1092.23,257.23 1093.20,258.07 1094.40,258.40 C1095.60,258.73 1096.93,259.23 1098.20,262.00 C1099.47,264.77 1100.63,267.00 1102.00,275.00 C1103.37,283.00 1105.12,299.03 1106.40,310.00 C1107.68,320.97 1108.18,331.80 1109.70,340.80 C1111.22,349.80 1112.98,356.80 1115.50,364.00 C1118.02,371.20 1121.32,379.27 1124.80,384.00 C1128.28,388.73 1134.47,391.00 1136.40,392.40" fill="none" stroke="#1E1A1A" stroke-width="2.6" stroke-dasharray="7 5"/>
<line x1="1008.20" y1="336.00" x2="1008.20" y2="21.82" stroke="#000" stroke-width="2.2"/>
<path d="M1012.20,24.70 L1008.20,17.50 L1004.20,24.70 L1008.20,23.84 Z" fill="#000" stroke="none" stroke-width="2"/>
<line x1="1007.00" y1="335.00" x2="1406.68" y2="335.00" stroke="#231815" stroke-width="2.2"/>
<path d="M1403.80,339.00 L1411.00,335.00 L1403.80,331.00 L1404.66,335.00 Z" fill="#231815" stroke="none" stroke-width="2"/>
<line x1="950.60" y1="393.30" x2="1347.18" y2="393.30" stroke="#231815" stroke-width="2.2"/>
<path d="M1344.30,397.30 L1351.50,393.30 L1344.30,389.30 L1345.16,393.30 Z" fill="#231815" stroke="none" stroke-width="2"/>
<line x1="1008.20" y1="335.90" x2="950.60" y2="393.10" stroke="#8a8280" stroke-width="0.8"/>
<line x1="1008.20" y1="335.90" x2="950.60" y2="393.10" stroke="#231815" stroke-width="2.6" stroke-dasharray="6 4.5"/>
<line x1="950.60" y1="393.10" x2="792.98" y2="547.87" stroke="#231815" stroke-width="2.2"/>
<path d="M792.23,543.00 L789.90,550.90 L797.84,548.71 L794.42,546.46 Z" fill="#231815" stroke="none" stroke-width="2"/>
<line x1="1008.20" y1="57.00" x2="809.60" y2="530.20" stroke="#000" stroke-width="2.3"/>
<line x1="1008.20" y1="57.00" x2="966.40" y2="376.30" stroke="#E8505A" stroke-width="1.8"/>
<line x1="1086.00" y1="62.90" x2="1110.00" y2="62.90" stroke="#EE8A92" stroke-width="3.4" stroke-dasharray="8 8"/>
<text x="1121.40" y="71.00" font-size="25" transform="translate(1121.40 71.00) scale(1.0 1.04) translate(-1121.40 -71.00)">PbS</text>
<line x1="1086.00" y1="96.00" x2="1110.00" y2="96.00" stroke="#231815" stroke-width="3.4" stroke-dasharray="8 8"/>
<text x="1121.70" y="104.80" font-size="25" transform="translate(1121.70 104.80) scale(1.0 1.04) translate(-1121.70 -104.80)">Tm-UCNP</text>
<g transform="translate(1043.30 183.20) rotate(-90)">
<text x="0.00" y="0.00" font-size="29.3" text-anchor="middle" transform="translate(0.00 0.00) scale(1.0 1.04) translate(0.00 0.00)">Intensity</text>
</g>
<text x="1177.00" y="367.50" font-size="29.3" transform="translate(1177.00 367.50) scale(1.0 1.04) translate(-1177.00 -367.50)">Realtime spectrum</text>
<text x="1003.40" y="428.90" font-size="29.3" transform="translate(1003.40 428.90) scale(1.0 1.04) translate(-1003.40 -428.90)">Wavelength (nm)</text>
<text x="1120.50" y="476.60" font-size="29.3" transform="translate(1120.50 476.60) scale(1.0 1.04) translate(-1120.50 -476.60)">Time-gate spectrum</text>
<g transform="translate(918.30 465.90) rotate(-45)">
<text x="0" y="0" font-size="29.3" text-anchor="middle" transform="scale(1 1.04)">Time (<tspan font-style="italic">μ</tspan>s)</text>
</g>
<g transform="translate(902.90 262.80) rotate(-67.45)">
<text x="0" y="0" font-size="29.3" text-anchor="middle" transform="scale(1 1.04)">Tm-UCNP: 810 nm, <tspan font-style="italic">μ</tspan>s</text>
</g>
<g transform="translate(976.50 262.00) rotate(-84.3)">
<text x="0" y="0" font-size="29.3" text-anchor="middle" transform="scale(1 1.04)">PbS: 810 nm, ns</text>
</g>
<path d="M159.40,1004.60 C172.83,1004.60 216.92,1004.82 240.00,1004.60 C263.08,1004.38 279.45,1003.68 297.90,1003.30 C316.35,1002.92 338.38,1002.65 350.70,1002.30 C363.02,1001.95 364.75,1001.63 371.80,1001.20 C378.85,1000.77 385.95,1000.75 393.00,999.70 C400.05,998.65 408.12,996.42 414.10,994.90 C420.08,993.38 423.97,992.37 428.90,990.60 C433.83,988.83 440.25,986.27 443.70,984.30 C447.15,982.33 446.90,980.87 449.60,978.80 C452.30,976.73 456.65,974.78 459.90,971.90 C463.15,969.02 465.83,965.53 469.10,961.50 C472.37,957.47 476.42,953.27 479.50,947.70 C482.58,942.13 484.72,935.98 487.60,928.10 C490.48,920.22 493.35,911.93 496.80,900.40 C500.25,888.87 504.47,873.10 508.30,858.90 C512.13,844.70 516.33,830.17 519.80,815.20 C523.27,800.23 526.02,785.63 529.10,769.10 C532.18,752.57 535.43,730.60 538.30,716.00 C541.17,701.40 544.18,690.13 546.30,681.50 C548.42,672.87 549.27,665.73 551.00,664.20 C552.73,662.67 554.22,669.23 556.70,672.30 C559.18,675.37 562.82,679.72 565.90,682.60 C568.98,685.48 572.50,687.48 575.20,689.60 C577.90,691.72 580.18,693.38 582.10,695.30 C584.02,697.22 584.40,695.72 586.70,701.10 C589.00,706.48 593.22,719.73 595.90,727.60 C598.58,735.47 600.50,740.23 602.80,748.30 C605.10,756.37 607.02,764.08 609.70,776.00 C612.38,787.92 615.82,805.98 618.90,819.80 C621.98,833.62 624.35,844.70 628.20,858.90 C632.05,873.10 638.55,894.23 642.00,905.00 C645.45,915.77 647.07,919.33 648.90,923.50 C650.73,927.67 651.47,927.32 653.00,930.00 C654.53,932.68 655.55,935.88 658.10,939.60 C660.65,943.32 666.60,950.18 668.30,952.30 L668.3,1005.3 L159.4,1005.3 Z" fill="#FAEBE2" stroke="none" stroke-width="2"/>
<path d="M159.40,998.00 C161.35,998.28 166.33,999.35 171.10,999.70 C175.87,1000.05 180.95,999.95 188.00,1000.10 C195.05,1000.25 204.95,1000.67 213.40,1000.60 C221.85,1000.53 231.67,999.67 238.70,999.70 C245.73,999.73 247.85,1000.65 255.60,1000.80 C263.35,1000.95 276.75,1000.88 285.20,1000.60 C293.65,1000.32 300.67,999.10 306.30,999.10 C311.93,999.10 315.47,999.97 319.00,1000.60 C322.53,1001.23 322.22,1002.62 327.50,1002.90 C332.78,1003.18 341.55,1002.40 350.70,1002.30 C359.85,1002.20 370.07,1002.48 382.40,1002.30 C394.73,1002.12 415.55,1001.92 424.70,1001.20 C433.85,1000.48 432.97,999.82 437.30,998.00 C441.63,996.18 446.93,992.73 450.70,990.30 C454.47,987.87 456.45,985.52 459.90,983.40 C463.35,981.28 467.17,978.45 471.40,977.60 C475.63,976.75 481.45,978.68 485.30,978.30 C489.15,977.92 491.43,977.13 494.50,975.30 C497.57,973.47 499.87,969.80 503.70,967.30 C507.53,964.80 513.65,961.65 517.50,960.30 C521.35,958.95 522.95,960.92 526.80,959.20 C530.65,957.48 536.77,952.30 540.60,950.00 C544.43,947.70 547.12,946.17 549.80,945.40 C552.48,944.63 552.85,943.10 556.70,945.40 C560.55,947.70 567.90,955.55 572.90,959.20 C577.90,962.85 582.10,964.42 586.70,967.30 C591.30,970.18 595.90,973.23 600.50,976.50 C605.10,979.77 609.68,983.83 614.30,986.90 C618.92,989.97 623.20,992.80 628.20,994.90 C633.20,997.00 639.70,998.73 644.30,999.50 C648.90,1000.27 651.80,998.73 655.80,999.50 C659.80,1000.27 666.22,1003.33 668.30,1004.10 L668.3,1005.3 L159.4,1005.3 Z" fill="#B8D6E0" stroke="none" stroke-width="2"/>
<path d="M159.40,1004.60 C172.83,1004.60 216.92,1004.82 240.00,1004.60 C263.08,1004.38 279.45,1003.68 297.90,1003.30 C316.35,1002.92 338.38,1002.65 350.70,1002.30 C363.02,1001.95 364.75,1001.63 371.80,1001.20 C378.85,1000.77 385.95,1000.75 393.00,999.70 C400.05,998.65 408.12,996.42 414.10,994.90 C420.08,993.38 423.97,992.37 428.90,990.60 C433.83,988.83 440.25,986.27 443.70,984.30 C447.15,982.33 446.90,980.87 449.60,978.80 C452.30,976.73 456.65,974.78 459.90,971.90 C463.15,969.02 465.83,965.53 469.10,961.50 C472.37,957.47 476.42,953.27 479.50,947.70 C482.58,942.13 484.72,935.98 487.60,928.10 C490.48,920.22 493.35,911.93 496.80,900.40 C500.25,888.87 504.47,873.10 508.30,858.90 C512.13,844.70 516.33,830.17 519.80,815.20 C523.27,800.23 526.02,785.63 529.10,769.10 C532.18,752.57 535.43,730.60 538.30,716.00 C541.17,701.40 544.18,690.13 546.30,681.50 C548.42,672.87 549.27,665.73 551.00,664.20 C552.73,662.67 554.22,669.23 556.70,672.30 C559.18,675.37 562.82,679.72 565.90,682.60 C568.98,685.48 572.50,687.48 575.20,689.60 C577.90,691.72 580.18,693.38 582.10,695.30 C584.02,697.22 584.40,695.72 586.70,701.10 C589.00,706.48 593.22,719.73 595.90,727.60 C598.58,735.47 600.50,740.23 602.80,748.30 C605.10,756.37 607.02,764.08 609.70,776.00 C612.38,787.92 615.82,805.98 618.90,819.80 C621.98,833.62 624.35,844.70 628.20,858.90 C632.05,873.10 638.55,894.23 642.00,905.00 C645.45,915.77 647.07,919.33 648.90,923.50 C650.73,927.67 651.47,927.32 653.00,930.00 C654.53,932.68 655.55,935.88 658.10,939.60 C660.65,943.32 666.60,950.18 668.30,952.30" fill="none" stroke="#E8201E" stroke-width="2.4" stroke-linejoin="round"/>
<path d="M159.40,998.00 C161.35,998.28 166.33,999.35 171.10,999.70 C175.87,1000.05 180.95,999.95 188.00,1000.10 C195.05,1000.25 204.95,1000.67 213.40,1000.60 C221.85,1000.53 231.67,999.67 238.70,999.70 C245.73,999.73 247.85,1000.65 255.60,1000.80 C263.35,1000.95 276.75,1000.88 285.20,1000.60 C293.65,1000.32 300.67,999.10 306.30,999.10 C311.93,999.10 315.47,999.97 319.00,1000.60 C322.53,1001.23 322.22,1002.62 327.50,1002.90 C332.78,1003.18 341.55,1002.40 350.70,1002.30 C359.85,1002.20 370.07,1002.48 382.40,1002.30 C394.73,1002.12 415.55,1001.92 424.70,1001.20 C433.85,1000.48 432.97,999.82 437.30,998.00 C441.63,996.18 446.93,992.73 450.70,990.30 C454.47,987.87 456.45,985.52 459.90,983.40 C463.35,981.28 467.17,978.45 471.40,977.60 C475.63,976.75 481.45,978.68 485.30,978.30 C489.15,977.92 491.43,977.13 494.50,975.30 C497.57,973.47 499.87,969.80 503.70,967.30 C507.53,964.80 513.65,961.65 517.50,960.30 C521.35,958.95 522.95,960.92 526.80,959.20 C530.65,957.48 536.77,952.30 540.60,950.00 C544.43,947.70 547.12,946.17 549.80,945.40 C552.48,944.63 552.85,943.10 556.70,945.40 C560.55,947.70 567.90,955.55 572.90,959.20 C577.90,962.85 582.10,964.42 586.70,967.30 C591.30,970.18 595.90,973.23 600.50,976.50 C605.10,979.77 609.68,983.83 614.30,986.90 C618.92,989.97 623.20,992.80 628.20,994.90 C633.20,997.00 639.70,998.73 644.30,999.50 C648.90,1000.27 651.80,998.73 655.80,999.50 C659.80,1000.27 666.22,1003.33 668.30,1004.10" fill="none" stroke="#111" stroke-width="2.6" stroke-linejoin="round"/>
<rect x="159.4" y="623.2" width="508.9" height="382.0999999999999" fill="none" stroke="#000" stroke-width="2.6"/>
<line x1="184.84" y1="1005.30" x2="184.84" y2="1010.30" stroke="#000" stroke-width="2.2"/>
<line x1="235.74" y1="1005.30" x2="235.74" y2="1013.80" stroke="#000" stroke-width="2.2"/>
<text x="235.74" y="1047.20" font-size="29.3" text-anchor="middle" transform="translate(235.74 1047.20) scale(1.0 1.04) translate(-235.74 -1047.20)">680</text>
<line x1="286.62" y1="1005.30" x2="286.62" y2="1010.30" stroke="#000" stroke-width="2.2"/>
<line x1="337.51" y1="1005.30" x2="337.51" y2="1013.80" stroke="#000" stroke-width="2.2"/>
<text x="337.51" y="1047.20" font-size="29.3" text-anchor="middle" transform="translate(337.51 1047.20) scale(1.0 1.04) translate(-337.51 -1047.20)">720</text>
<line x1="388.40" y1="1005.30" x2="388.40" y2="1010.30" stroke="#000" stroke-width="2.2"/>
<line x1="439.29" y1="1005.30" x2="439.29" y2="1013.80" stroke="#000" stroke-width="2.2"/>
<text x="439.29" y="1047.20" font-size="29.3" text-anchor="middle" transform="translate(439.29 1047.20) scale(1.0 1.04) translate(-439.29 -1047.20)">760</text>
<line x1="490.19" y1="1005.30" x2="490.19" y2="1010.30" stroke="#000" stroke-width="2.2"/>
<line x1="541.08" y1="1005.30" x2="541.08" y2="1013.80" stroke="#000" stroke-width="2.2"/>
<text x="541.08" y="1047.20" font-size="29.3" text-anchor="middle" transform="translate(541.08 1047.20) scale(1.0 1.04) translate(-541.08 -1047.20)">800</text>
<line x1="591.97" y1="1005.30" x2="591.97" y2="1010.30" stroke="#000" stroke-width="2.2"/>
<line x1="642.86" y1="1005.30" x2="642.86" y2="1013.80" stroke="#000" stroke-width="2.2"/>
<text x="642.86" y="1047.20" font-size="29.3" text-anchor="middle" transform="translate(642.86 1047.20) scale(1.0 1.04) translate(-642.86 -1047.20)">840</text>
<line x1="186.00" y1="669.70" x2="215.00" y2="669.70" stroke="#E8201E" stroke-width="3.2"/>
<text x="226.50" y="677.70" font-size="25" transform="translate(226.50 677.70) scale(1.0 1.04) translate(-226.50 -677.70)">Realtime</text>
<line x1="186.00" y1="729.50" x2="215.00" y2="729.50" stroke="#000" stroke-width="3.2"/>
<text x="226.00" y="737.90" font-size="25" transform="translate(226.00 737.90) scale(1.0 1.04) translate(-226.00 -737.90)">Time-gate decoding</text>
<g transform="translate(139.40 824.20) rotate(-90)">
<text x="0.00" y="0.00" font-size="29.3" text-anchor="middle" transform="translate(0.00 0.00) scale(1.0 1.04) translate(0.00 0.00)">Intensity</text>
</g>
<text x="304.00" y="1089.30" font-size="29.3" transform="translate(304.00 1089.30) scale(1.0 1.04) translate(-304.00 -1089.30)">Wavelength (nm)</text>
<text x="181.60" y="828.30" font-size="29" font-style="italic" transform="translate(181.60 828.30) scale(1.0 1.04) translate(-181.60 -828.30)">R</text>
<text x="209.50" y="828.30" font-size="29" transform="translate(209.50 828.30) scale(1.0 1.04) translate(-209.50 -828.30)">=</text>
<text x="241.60" y="801.30" font-size="29" font-style="italic" transform="translate(241.60 801.30) scale(1.0 1.04) translate(-241.60 -801.30)">S</text>
<text x="260.40" y="809.70" font-size="19.5" transform="translate(260.40 809.70) scale(1.0 1.04) translate(-260.40 -809.70)">A</text>
<line x1="239.20" y1="819.50" x2="276.10" y2="819.50" stroke="#000" stroke-width="2.5"/>
<text x="245.80" y="854.50" font-size="29" font-style="italic" transform="translate(245.80 854.50) scale(1.0 1.04) translate(-245.80 -854.50)">S</text>
<text x="262.60" y="862.10" font-size="19.5" transform="translate(262.60 862.10) scale(1.0 1.04) translate(-262.60 -862.10)">B</text>
<text x="283.90" y="828.30" font-size="29" transform="translate(283.90 828.30) scale(1.0 1.04) translate(-283.90 -828.30)">=</text>
<text x="299.90" y="801.30" font-size="29" font-style="italic" transform="translate(299.90 801.30) scale(1.0 1.04) translate(-299.90 -801.30)">S</text>
<text x="318.80" y="809.70" font-size="20.5" transform="translate(318.80 809.70) scale(1.0 1.04) translate(-318.80 -809.70)">sum.</text>
<text x="363.30" y="801.30" font-size="29" transform="translate(363.30 801.30) scale(1.0 1.04) translate(-363.30 -801.30)">-</text>
<text x="373.40" y="801.30" font-size="29" font-style="italic" transform="translate(373.40 801.30) scale(1.0 1.04) translate(-373.40 -801.30)">S</text>
<text x="391.90" y="809.70" font-size="19.5" transform="translate(391.90 809.70) scale(1.0 1.04) translate(-391.90 -809.70)">B</text>
<line x1="309.40" y1="819.50" x2="399.80" y2="819.50" stroke="#000" stroke-width="2.5"/>
<text x="338.00" y="854.50" font-size="29" font-style="italic" transform="translate(338.00 854.50) scale(1.0 1.04) translate(-338.00 -854.50)">S</text>
<text x="355.50" y="862.10" font-size="19.5" transform="translate(355.50 862.10) scale(1.0 1.04) translate(-355.50 -862.10)">B</text>
<text x="192.70" y="921.30" font-size="25" transform="translate(192.70 921.30) scale(1.0 1.04) translate(-192.70 -921.30)">Excitation: 865 nm</text>
<text x="241.60" y="964.60" font-size="25" transform="translate(241.60 964.60) scale(1.0 1.04) translate(-241.60 -964.60)">This work</text>
<text x="550.00" y="867.00" font-size="29" font-style="italic" transform="translate(550.00 867.00) scale(1.0 1.04) translate(-550.00 -867.00)">S</text>
<text x="568.00" y="876.20" font-size="19.5" transform="translate(568.00 876.20) scale(1.0 1.04) translate(-568.00 -876.20)">A</text>
<text x="543.00" y="984.50" font-size="29" font-style="italic" transform="translate(543.00 984.50) scale(1.0 1.04) translate(-543.00 -984.50)">S</text>
<text x="560.50" y="992.60" font-size="19.5" transform="translate(560.50 992.60) scale(1.0 1.04) translate(-560.50 -992.60)">B</text>
<rect x="887.8" y="624.5" width="514.1000000000001" height="380.6" fill="none" stroke="#000" stroke-width="2.6"/>
<line x1="887.46" y1="1005.10" x2="887.46" y2="1010.10" stroke="#000" stroke-width="2.2"/>
<line x1="924.20" y1="1005.10" x2="924.20" y2="1013.60" stroke="#000" stroke-width="2.2"/>
<text x="924.20" y="1047.10" font-size="29.3" text-anchor="middle" transform="translate(924.20 1047.10) scale(1.0 1.04) translate(-924.20 -1047.10)">20</text>
<line x1="960.94" y1="1005.10" x2="960.94" y2="1010.10" stroke="#000" stroke-width="2.2"/>
<line x1="997.68" y1="1005.10" x2="997.68" y2="1013.60" stroke="#000" stroke-width="2.2"/>
<text x="997.68" y="1047.10" font-size="29.3" text-anchor="middle" transform="translate(997.68 1047.10) scale(1.0 1.04) translate(-997.68 -1047.10)">25</text>
<line x1="1034.42" y1="1005.10" x2="1034.42" y2="1010.10" stroke="#000" stroke-width="2.2"/>
<line x1="1071.17" y1="1005.10" x2="1071.17" y2="1013.60" stroke="#000" stroke-width="2.2"/>
<text x="1071.17" y="1047.10" font-size="29.3" text-anchor="middle" transform="translate(1071.17 1047.10) scale(1.0 1.04) translate(-1071.17 -1047.10)">30</text>
<line x1="1107.91" y1="1005.10" x2="1107.91" y2="1010.10" stroke="#000" stroke-width="2.2"/>
<line x1="1144.65" y1="1005.10" x2="1144.65" y2="1013.60" stroke="#000" stroke-width="2.2"/>
<text x="1144.65" y="1047.10" font-size="29.3" text-anchor="middle" transform="translate(1144.65 1047.10) scale(1.0 1.04) translate(-1144.65 -1047.10)">35</text>
<line x1="1181.39" y1="1005.10" x2="1181.39" y2="1010.10" stroke="#000" stroke-width="2.2"/>
<line x1="1218.13" y1="1005.10" x2="1218.13" y2="1013.60" stroke="#000" stroke-width="2.2"/>
<text x="1218.13" y="1047.10" font-size="29.3" text-anchor="middle" transform="translate(1218.13 1047.10) scale(1.0 1.04) translate(-1218.13 -1047.10)">40</text>
<line x1="1254.88" y1="1005.10" x2="1254.88" y2="1010.10" stroke="#000" stroke-width="2.2"/>
<line x1="1291.62" y1="1005.10" x2="1291.62" y2="1013.60" stroke="#000" stroke-width="2.2"/>
<text x="1291.62" y="1047.10" font-size="29.3" text-anchor="middle" transform="translate(1291.62 1047.10) scale(1.0 1.04) translate(-1291.62 -1047.10)">45</text>
<line x1="1328.36" y1="1005.10" x2="1328.36" y2="1010.10" stroke="#000" stroke-width="2.2"/>
<line x1="1365.10" y1="1005.10" x2="1365.10" y2="1013.60" stroke="#000" stroke-width="2.2"/>
<text x="1365.10" y="1047.10" font-size="29.3" text-anchor="middle" transform="translate(1365.10 1047.10) scale(1.0 1.04) translate(-1365.10 -1047.10)">50</text>
<line x1="887.80" y1="1005.10" x2="883.30" y2="1005.10" stroke="#000" stroke-width="2.2"/>
<line x1="887.80" y1="970.50" x2="879.30" y2="970.50" stroke="#000" stroke-width="2.2"/>
<text x="864.00" y="980.80" font-size="29.3" text-anchor="end" transform="translate(864.00 980.80) scale(1.0 1.04) translate(-864.00 -980.80)">2</text>
<line x1="887.80" y1="935.90" x2="883.30" y2="935.90" stroke="#000" stroke-width="2.2"/>
<line x1="887.80" y1="901.30" x2="879.30" y2="901.30" stroke="#000" stroke-width="2.2"/>
<text x="864.00" y="911.60" font-size="29.3" text-anchor="end" transform="translate(864.00 911.60) scale(1.0 1.04) translate(-864.00 -911.60)">3</text>
<line x1="887.80" y1="866.70" x2="883.30" y2="866.70" stroke="#000" stroke-width="2.2"/>
<line x1="887.80" y1="832.10" x2="879.30" y2="832.10" stroke="#000" stroke-width="2.2"/>
<text x="864.00" y="842.40" font-size="29.3" text-anchor="end" transform="translate(864.00 842.40) scale(1.0 1.04) translate(-864.00 -842.40)">4</text>
<line x1="887.80" y1="797.50" x2="883.30" y2="797.50" stroke="#000" stroke-width="2.2"/>
<line x1="887.80" y1="762.90" x2="879.30" y2="762.90" stroke="#000" stroke-width="2.2"/>
<text x="864.00" y="773.20" font-size="29.3" text-anchor="end" transform="translate(864.00 773.20) scale(1.0 1.04) translate(-864.00 -773.20)">5</text>
<line x1="887.80" y1="728.30" x2="883.30" y2="728.30" stroke="#000" stroke-width="2.2"/>
<line x1="887.80" y1="693.70" x2="879.30" y2="693.70" stroke="#000" stroke-width="2.2"/>
<text x="864.00" y="704.00" font-size="29.3" text-anchor="end" transform="translate(864.00 704.00) scale(1.0 1.04) translate(-864.00 -704.00)">6</text>
<line x1="887.80" y1="659.10" x2="883.30" y2="659.10" stroke="#000" stroke-width="2.2"/>
<line x1="887.80" y1="624.50" x2="879.30" y2="624.50" stroke="#000" stroke-width="2.2"/>
<text x="864.00" y="634.80" font-size="29.3" text-anchor="end" transform="translate(864.00 634.80) scale(1.0 1.04) translate(-864.00 -634.80)">7</text>
<text x="1031.40" y="1090.20" font-size="29.3" transform="translate(1031.40 1090.20) scale(1.0 1.04) translate(-1031.40 -1090.20)">Temperature (°C)</text>
<g transform="translate(822.60 945.60) rotate(-90)">
<text x="1.10" y="0.00" font-size="29.3" transform="translate(1.10 0.00) scale(1.0 1.04) translate(-1.10 0.00)">Ratio</text>
<text x="77.10" y="0.00" font-size="29.3" transform="translate(77.10 0.00) scale(1.0 1.04) translate(-77.10 0.00)">(</text>
<text x="88.30" y="0.00" font-size="29.3" font-style="italic" transform="translate(88.30 0.00) scale(1.0 1.04) translate(-88.30 0.00)">I</text>
<text x="94.90" y="8.50" font-size="20.7" transform="translate(94.90 8.50) scale(1.0 1.04) translate(-94.90 -8.50)">PbS810</text>
<text x="170.80" y="0.00" font-size="29.3" transform="translate(170.80 0.00) scale(1.0 1.04) translate(-170.80 0.00)">/</text>
<text x="180.00" y="0.00" font-size="29.3" font-style="italic" transform="translate(180.00 0.00) scale(1.0 1.04) translate(-180.00 0.00)">I</text>
<text x="186.10" y="8.50" font-size="21" transform="translate(186.10 8.50) scale(1.0 1.04) translate(-186.10 -8.50)">Tm810</text>
<text x="251.30" y="0.00" font-size="29.3" transform="translate(251.30 0.00) scale(1.0 1.04) translate(-251.30 0.00)">)</text>
</g>
<line x1="924.20" y1="685.60" x2="924.20" y2="700.00" stroke="#9060B5" stroke-width="1.6"/>
<line x1="919.20" y1="685.60" x2="929.20" y2="685.60" stroke="#9060B5" stroke-width="1.9"/>
<line x1="919.20" y1="700.00" x2="929.20" y2="700.00" stroke="#9060B5" stroke-width="1.9"/>
<circle cx="924.20" cy="692.8" r="4.3" fill="#B898CE"/>
<line x1="924.20" y1="688.00" x2="924.20" y2="693.20" stroke="#F6A93B" stroke-width="1.6"/>
<line x1="919.20" y1="688.00" x2="929.20" y2="688.00" stroke="#F6A93B" stroke-width="1.9"/>
<line x1="919.20" y1="693.20" x2="929.20" y2="693.20" stroke="#F6A93B" stroke-width="1.9"/>
<circle cx="924.20" cy="690.6" r="4.3" fill="#F6A93B"/>
<line x1="924.20" y1="688.90" x2="924.20" y2="695.90" stroke="#3F4FA8" stroke-width="1.6"/>
<line x1="919.20" y1="688.90" x2="929.20" y2="688.90" stroke="#3F4FA8" stroke-width="1.9"/>
<line x1="919.20" y1="695.90" x2="929.20" y2="695.90" stroke="#3F4FA8" stroke-width="1.9"/>
<circle cx="924.20" cy="692.4" r="4.3" fill="#3F4FA8"/>
<line x1="924.20" y1="677.00" x2="924.20" y2="686.00" stroke="#E8222A" stroke-width="1.6"/>
<line x1="919.20" y1="677.00" x2="929.20" y2="677.00" stroke="#E8222A" stroke-width="1.9"/>
<line x1="919.20" y1="686.00" x2="929.20" y2="686.00" stroke="#E8222A" stroke-width="1.9"/>
<circle cx="924.20" cy="681.5" r="4.6" fill="#E8222A"/>
<line x1="997.68" y1="734.60" x2="997.68" y2="748.00" stroke="#9060B5" stroke-width="1.6"/>
<line x1="992.68" y1="734.60" x2="1002.68" y2="734.60" stroke="#9060B5" stroke-width="1.9"/>
<line x1="992.68" y1="748.00" x2="1002.68" y2="748.00" stroke="#9060B5" stroke-width="1.9"/>
<circle cx="997.68" cy="741.3" r="4.3" fill="#B898CE"/>
<line x1="997.68" y1="734.90" x2="997.68" y2="740.10" stroke="#F6A93B" stroke-width="1.6"/>
<line x1="992.68" y1="734.90" x2="1002.68" y2="734.90" stroke="#F6A93B" stroke-width="1.9"/>
<line x1="992.68" y1="740.10" x2="1002.68" y2="740.10" stroke="#F6A93B" stroke-width="1.9"/>
<circle cx="997.68" cy="737.5" r="4.3" fill="#F6A93B"/>
<line x1="997.68" y1="734.00" x2="997.68" y2="740.00" stroke="#3F4FA8" stroke-width="1.6"/>
<line x1="992.68" y1="734.00" x2="1002.68" y2="734.00" stroke="#3F4FA8" stroke-width="1.9"/>
<line x1="992.68" y1="740.00" x2="1002.68" y2="740.00" stroke="#3F4FA8" stroke-width="1.9"/>
<circle cx="997.68" cy="737" r="4.3" fill="#3F4FA8"/>
<line x1="997.68" y1="726.50" x2="997.68" y2="734.50" stroke="#E8222A" stroke-width="1.6"/>
<line x1="992.68" y1="726.50" x2="1002.68" y2="726.50" stroke="#E8222A" stroke-width="1.9"/>
<line x1="992.68" y1="734.50" x2="1002.68" y2="734.50" stroke="#E8222A" stroke-width="1.9"/>
<circle cx="997.68" cy="730.5" r="4.6" fill="#E8222A"/>
<line x1="1071.17" y1="783.30" x2="1071.17" y2="797.70" stroke="#9060B5" stroke-width="1.6"/>
<line x1="1066.17" y1="783.30" x2="1076.17" y2="783.30" stroke="#9060B5" stroke-width="1.9"/>
<line x1="1066.17" y1="797.70" x2="1076.17" y2="797.70" stroke="#9060B5" stroke-width="1.9"/>
<circle cx="1071.17" cy="790.5" r="4.3" fill="#B898CE"/>
<line x1="1071.17" y1="783.40" x2="1071.17" y2="788.60" stroke="#F6A93B" stroke-width="1.6"/>
<line x1="1066.17" y1="783.40" x2="1076.17" y2="783.40" stroke="#F6A93B" stroke-width="1.9"/>
<line x1="1066.17" y1="788.60" x2="1076.17" y2="788.60" stroke="#F6A93B" stroke-width="1.9"/>
<circle cx="1071.17" cy="786" r="4.3" fill="#F6A93B"/>
<line x1="1071.17" y1="786.10" x2="1071.17" y2="794.50" stroke="#3F4FA8" stroke-width="1.6"/>
<line x1="1066.17" y1="786.10" x2="1076.17" y2="786.10" stroke="#3F4FA8" stroke-width="1.9"/>
<line x1="1066.17" y1="794.50" x2="1076.17" y2="794.50" stroke="#3F4FA8" stroke-width="1.9"/>
<circle cx="1071.17" cy="790.3" r="4.3" fill="#3F4FA8"/>
<line x1="1071.17" y1="773.80" x2="1071.17" y2="782.80" stroke="#E8222A" stroke-width="1.6"/>
<line x1="1066.17" y1="773.80" x2="1076.17" y2="773.80" stroke="#E8222A" stroke-width="1.9"/>
<line x1="1066.17" y1="782.80" x2="1076.17" y2="782.80" stroke="#E8222A" stroke-width="1.9"/>
<circle cx="1071.17" cy="778.3" r="4.6" fill="#E8222A"/>
<line x1="1144.65" y1="828.40" x2="1144.65" y2="848.40" stroke="#9060B5" stroke-width="1.6"/>
<line x1="1139.65" y1="828.40" x2="1149.65" y2="828.40" stroke="#9060B5" stroke-width="1.9"/>
<line x1="1139.65" y1="848.40" x2="1149.65" y2="848.40" stroke="#9060B5" stroke-width="1.9"/>
<circle cx="1144.65" cy="838.4" r="4.3" fill="#B898CE"/>
<line x1="1144.65" y1="839.00" x2="1144.65" y2="845.00" stroke="#F6A93B" stroke-width="1.6"/>
<line x1="1139.65" y1="839.00" x2="1149.65" y2="839.00" stroke="#F6A93B" stroke-width="1.9"/>
<line x1="1139.65" y1="845.00" x2="1149.65" y2="845.00" stroke="#F6A93B" stroke-width="1.9"/>
<circle cx="1144.65" cy="842" r="4.3" fill="#F6A93B"/>
<line x1="1144.65" y1="831.00" x2="1144.65" y2="837.00" stroke="#3F4FA8" stroke-width="1.6"/>
<line x1="1139.65" y1="831.00" x2="1149.65" y2="831.00" stroke="#3F4FA8" stroke-width="1.9"/>
<line x1="1139.65" y1="837.00" x2="1149.65" y2="837.00" stroke="#3F4FA8" stroke-width="1.9"/>
<circle cx="1144.65" cy="834" r="4.3" fill="#3F4FA8"/>
<line x1="1144.65" y1="828.00" x2="1144.65" y2="834.00" stroke="#E8222A" stroke-width="1.6"/>
<line x1="1139.65" y1="828.00" x2="1149.65" y2="828.00" stroke="#E8222A" stroke-width="1.9"/>
<line x1="1139.65" y1="834.00" x2="1149.65" y2="834.00" stroke="#E8222A" stroke-width="1.9"/>
<circle cx="1144.65" cy="831" r="4.6" fill="#E8222A"/>
<line x1="1218.13" y1="879.50" x2="1218.13" y2="897.50" stroke="#9060B5" stroke-width="1.6"/>
<line x1="1213.13" y1="879.50" x2="1223.13" y2="879.50" stroke="#9060B5" stroke-width="1.9"/>
<line x1="1213.13" y1="897.50" x2="1223.13" y2="897.50" stroke="#9060B5" stroke-width="1.9"/>
<circle cx="1218.13" cy="888.5" r="4.3" fill="#B898CE"/>
<line x1="1218.13" y1="886.00" x2="1218.13" y2="892.00" stroke="#F6A93B" stroke-width="1.6"/>
<line x1="1213.13" y1="886.00" x2="1223.13" y2="886.00" stroke="#F6A93B" stroke-width="1.9"/>
<line x1="1213.13" y1="892.00" x2="1223.13" y2="892.00" stroke="#F6A93B" stroke-width="1.9"/>
<circle cx="1218.13" cy="889" r="4.3" fill="#F6A93B"/>
<line x1="1218.13" y1="881.00" x2="1218.13" y2="887.00" stroke="#3F4FA8" stroke-width="1.6"/>
<line x1="1213.13" y1="881.00" x2="1223.13" y2="881.00" stroke="#3F4FA8" stroke-width="1.9"/>
<line x1="1213.13" y1="887.00" x2="1223.13" y2="887.00" stroke="#3F4FA8" stroke-width="1.9"/>
<circle cx="1218.13" cy="884" r="4.3" fill="#3F4FA8"/>
<line x1="1218.13" y1="879.50" x2="1218.13" y2="885.50" stroke="#E8222A" stroke-width="1.6"/>
<line x1="1213.13" y1="879.50" x2="1223.13" y2="879.50" stroke="#E8222A" stroke-width="1.9"/>
<line x1="1213.13" y1="885.50" x2="1223.13" y2="885.50" stroke="#E8222A" stroke-width="1.9"/>
<circle cx="1218.13" cy="882.5" r="4.6" fill="#E8222A"/>
<line x1="1291.62" y1="927.30" x2="1291.62" y2="944.70" stroke="#9060B5" stroke-width="1.6"/>
<line x1="1286.62" y1="927.30" x2="1296.62" y2="927.30" stroke="#9060B5" stroke-width="1.9"/>
<line x1="1286.62" y1="944.70" x2="1296.62" y2="944.70" stroke="#9060B5" stroke-width="1.9"/>
<circle cx="1291.62" cy="936" r="4.3" fill="#B898CE"/>
<line x1="1291.62" y1="935.00" x2="1291.62" y2="941.00" stroke="#F6A93B" stroke-width="1.6"/>
<line x1="1286.62" y1="935.00" x2="1296.62" y2="935.00" stroke="#F6A93B" stroke-width="1.9"/>
<line x1="1286.62" y1="941.00" x2="1296.62" y2="941.00" stroke="#F6A93B" stroke-width="1.9"/>
<circle cx="1291.62" cy="938" r="4.3" fill="#F6A93B"/>
<line x1="1291.62" y1="933.00" x2="1291.62" y2="939.00" stroke="#3F4FA8" stroke-width="1.6"/>
<line x1="1286.62" y1="933.00" x2="1296.62" y2="933.00" stroke="#3F4FA8" stroke-width="1.9"/>
<line x1="1286.62" y1="939.00" x2="1296.62" y2="939.00" stroke="#3F4FA8" stroke-width="1.9"/>
<circle cx="1291.62" cy="936" r="4.3" fill="#3F4FA8"/>
<line x1="1291.62" y1="930.60" x2="1291.62" y2="936.60" stroke="#E8222A" stroke-width="1.6"/>
<line x1="1286.62" y1="930.60" x2="1296.62" y2="930.60" stroke="#E8222A" stroke-width="1.9"/>
<line x1="1286.62" y1="936.60" x2="1296.62" y2="936.60" stroke="#E8222A" stroke-width="1.9"/>
<circle cx="1291.62" cy="933.6" r="4.6" fill="#E8222A"/>
<line x1="1365.10" y1="962.90" x2="1365.10" y2="982.10" stroke="#9060B5" stroke-width="1.6"/>
<line x1="1360.10" y1="962.90" x2="1370.10" y2="962.90" stroke="#9060B5" stroke-width="1.9"/>
<line x1="1360.10" y1="982.10" x2="1370.10" y2="982.10" stroke="#9060B5" stroke-width="1.9"/>
<circle cx="1365.10" cy="972.5" r="4.3" fill="#B898CE"/>
<line x1="1365.10" y1="972.00" x2="1365.10" y2="978.00" stroke="#F6A93B" stroke-width="1.6"/>
<line x1="1360.10" y1="972.00" x2="1370.10" y2="972.00" stroke="#F6A93B" stroke-width="1.9"/>
<line x1="1360.10" y1="978.00" x2="1370.10" y2="978.00" stroke="#F6A93B" stroke-width="1.9"/>
<circle cx="1365.10" cy="975" r="4.3" fill="#F6A93B"/>
<line x1="1365.10" y1="970.50" x2="1365.10" y2="976.50" stroke="#3F4FA8" stroke-width="1.6"/>
<line x1="1360.10" y1="970.50" x2="1370.10" y2="970.50" stroke="#3F4FA8" stroke-width="1.9"/>
<line x1="1360.10" y1="976.50" x2="1370.10" y2="976.50" stroke="#3F4FA8" stroke-width="1.9"/>
<circle cx="1365.10" cy="973.5" r="4.3" fill="#3F4FA8"/>
<line x1="1365.10" y1="969.00" x2="1365.10" y2="975.00" stroke="#E8222A" stroke-width="1.6"/>
<line x1="1360.10" y1="969.00" x2="1370.10" y2="969.00" stroke="#E8222A" stroke-width="1.9"/>
<line x1="1360.10" y1="975.00" x2="1370.10" y2="975.00" stroke="#E8222A" stroke-width="1.9"/>
<circle cx="1365.10" cy="972" r="4.6" fill="#E8222A"/>
<circle cx="1261.3" cy="660.5" r="5.4" fill="#E8222A"/>
<text x="1278.80" y="666.40" font-size="25" transform="translate(1278.80 666.40) scale(1.0 1.04) translate(-1278.80 -666.40)">0 mm</text>
<circle cx="1261.3" cy="697.8" r="5.4" fill="#F6A93B"/>
<text x="1278.80" y="702.80" font-size="25" transform="translate(1278.80 702.80) scale(1.0 1.04) translate(-1278.80 -702.80)">1 mm</text>
<circle cx="1261.3" cy="735.1" r="5.4" fill="#3F4FA8"/>
<text x="1278.80" y="742.80" font-size="25" transform="translate(1278.80 742.80) scale(1.0 1.04) translate(-1278.80 -742.80)">2 mm</text>
<circle cx="1261.3" cy="772.4" r="5.4" fill="#B898CE"/>
<text x="1278.80" y="779.70" font-size="25" transform="translate(1278.80 779.70) scale(1.0 1.04) translate(-1278.80 -779.70)">3 mm</text>
<rect x="887.8" y="1177.7" width="514.1000000000001" height="380.60000000000014" fill="none" stroke="#000" stroke-width="2.6"/>
<line x1="887.46" y1="1558.30" x2="887.46" y2="1563.30" stroke="#000" stroke-width="2.2"/>
<line x1="924.20" y1="1558.30" x2="924.20" y2="1566.80" stroke="#000" stroke-width="2.2"/>
<text x="924.20" y="1600.30" font-size="29.3" text-anchor="middle" transform="translate(924.20 1600.30) scale(1.0 1.04) translate(-924.20 -1600.30)">20</text>
<line x1="960.94" y1="1558.30" x2="960.94" y2="1563.30" stroke="#000" stroke-width="2.2"/>
<line x1="997.68" y1="1558.30" x2="997.68" y2="1566.80" stroke="#000" stroke-width="2.2"/>
<text x="997.68" y="1600.30" font-size="29.3" text-anchor="middle" transform="translate(997.68 1600.30) scale(1.0 1.04) translate(-997.68 -1600.30)">25</text>
<line x1="1034.42" y1="1558.30" x2="1034.42" y2="1563.30" stroke="#000" stroke-width="2.2"/>
<line x1="1071.17" y1="1558.30" x2="1071.17" y2="1566.80" stroke="#000" stroke-width="2.2"/>
<text x="1071.17" y="1600.30" font-size="29.3" text-anchor="middle" transform="translate(1071.17 1600.30) scale(1.0 1.04) translate(-1071.17 -1600.30)">30</text>
<line x1="1107.91" y1="1558.30" x2="1107.91" y2="1563.30" stroke="#000" stroke-width="2.2"/>
<line x1="1144.65" y1="1558.30" x2="1144.65" y2="1566.80" stroke="#000" stroke-width="2.2"/>
<text x="1144.65" y="1600.30" font-size="29.3" text-anchor="middle" transform="translate(1144.65 1600.30) scale(1.0 1.04) translate(-1144.65 -1600.30)">35</text>
<line x1="1181.39" y1="1558.30" x2="1181.39" y2="1563.30" stroke="#000" stroke-width="2.2"/>
<line x1="1218.13" y1="1558.30" x2="1218.13" y2="1566.80" stroke="#000" stroke-width="2.2"/>
<text x="1218.13" y="1600.30" font-size="29.3" text-anchor="middle" transform="translate(1218.13 1600.30) scale(1.0 1.04) translate(-1218.13 -1600.30)">40</text>
<line x1="1254.88" y1="1558.30" x2="1254.88" y2="1563.30" stroke="#000" stroke-width="2.2"/>
<line x1="1291.62" y1="1558.30" x2="1291.62" y2="1566.80" stroke="#000" stroke-width="2.2"/>
<text x="1291.62" y="1600.30" font-size="29.3" text-anchor="middle" transform="translate(1291.62 1600.30) scale(1.0 1.04) translate(-1291.62 -1600.30)">45</text>
<line x1="1328.36" y1="1558.30" x2="1328.36" y2="1563.30" stroke="#000" stroke-width="2.2"/>
<line x1="1365.10" y1="1558.30" x2="1365.10" y2="1566.80" stroke="#000" stroke-width="2.2"/>
<text x="1365.10" y="1600.30" font-size="29.3" text-anchor="middle" transform="translate(1365.10 1600.30) scale(1.0 1.04) translate(-1365.10 -1600.30)">50</text>
<line x1="887.80" y1="1558.30" x2="883.30" y2="1558.30" stroke="#000" stroke-width="2.2"/>
<line x1="887.80" y1="1523.70" x2="879.30" y2="1523.70" stroke="#000" stroke-width="2.2"/>
<text x="864.00" y="1534.00" font-size="29.3" text-anchor="end" transform="translate(864.00 1534.00) scale(1.0 1.04) translate(-864.00 -1534.00)">2</text>
<line x1="887.80" y1="1489.10" x2="883.30" y2="1489.10" stroke="#000" stroke-width="2.2"/>
<line x1="887.80" y1="1454.50" x2="879.30" y2="1454.50" stroke="#000" stroke-width="2.2"/>
<text x="864.00" y="1464.80" font-size="29.3" text-anchor="end" transform="translate(864.00 1464.80) scale(1.0 1.04) translate(-864.00 -1464.80)">3</text>
<line x1="887.80" y1="1419.90" x2="883.30" y2="1419.90" stroke="#000" stroke-width="2.2"/>
<line x1="887.80" y1="1385.30" x2="879.30" y2="1385.30" stroke="#000" stroke-width="2.2"/>
<text x="864.00" y="1395.60" font-size="29.3" text-anchor="end" transform="translate(864.00 1395.60) scale(1.0 1.04) translate(-864.00 -1395.60)">4</text>
<line x1="887.80" y1="1350.70" x2="883.30" y2="1350.70" stroke="#000" stroke-width="2.2"/>
<line x1="887.80" y1="1316.10" x2="879.30" y2="1316.10" stroke="#000" stroke-width="2.2"/>
<text x="864.00" y="1326.40" font-size="29.3" text-anchor="end" transform="translate(864.00 1326.40) scale(1.0 1.04) translate(-864.00 -1326.40)">5</text>
<line x1="887.80" y1="1281.50" x2="883.30" y2="1281.50" stroke="#000" stroke-width="2.2"/>
<line x1="887.80" y1="1246.90" x2="879.30" y2="1246.90" stroke="#000" stroke-width="2.2"/>
<text x="864.00" y="1257.20" font-size="29.3" text-anchor="end" transform="translate(864.00 1257.20) scale(1.0 1.04) translate(-864.00 -1257.20)">6</text>
<line x1="887.80" y1="1212.30" x2="883.30" y2="1212.30" stroke="#000" stroke-width="2.2"/>
<line x1="887.80" y1="1177.70" x2="879.30" y2="1177.70" stroke="#000" stroke-width="2.2"/>
<text x="864.00" y="1188.00" font-size="29.3" text-anchor="end" transform="translate(864.00 1188.00) scale(1.0 1.04) translate(-864.00 -1188.00)">7</text>
<text x="1031.40" y="1643.40" font-size="29.3" transform="translate(1031.40 1643.40) scale(1.0 1.04) translate(-1031.40 -1643.40)">Temperature (°C)</text>
<g transform="translate(822.60 1498.80) rotate(-90)">
<text x="1.10" y="0.00" font-size="29.3" transform="translate(1.10 0.00) scale(1.0 1.04) translate(-1.10 0.00)">Ratio</text>
<text x="77.10" y="0.00" font-size="29.3" transform="translate(77.10 0.00) scale(1.0 1.04) translate(-77.10 0.00)">(</text>
<text x="88.30" y="0.00" font-size="29.3" font-style="italic" transform="translate(88.30 0.00) scale(1.0 1.04) translate(-88.30 0.00)">I</text>
<text x="94.90" y="8.50" font-size="20.7" transform="translate(94.90 8.50) scale(1.0 1.04) translate(-94.90 -8.50)">PbS810</text>
<text x="170.80" y="0.00" font-size="29.3" transform="translate(170.80 0.00) scale(1.0 1.04) translate(-170.80 0.00)">/</text>
<text x="180.00" y="0.00" font-size="29.3" font-style="italic" transform="translate(180.00 0.00) scale(1.0 1.04) translate(-180.00 0.00)">I</text>
<text x="186.10" y="8.50" font-size="21" transform="translate(186.10 8.50) scale(1.0 1.04) translate(-186.10 -8.50)">Tm810</text>
<text x="251.30" y="0.00" font-size="29.3" transform="translate(251.30 0.00) scale(1.0 1.04) translate(-251.30 0.00)">)</text>
</g>
<line x1="924.20" y1="1242.70" x2="1365.90" y2="1532.40" stroke="#2F4BA5" stroke-width="2.2" stroke-dasharray="9 9.4" stroke-linecap="round"/>
<line x1="924.20" y1="1231.80" x2="924.20" y2="1250.80" stroke="#000" stroke-width="1.8"/>
<line x1="922.70" y1="1233.80" x2="929.20" y2="1233.80" stroke="#000" stroke-width="1.8"/>
<line x1="922.70" y1="1248.80" x2="929.20" y2="1248.80" stroke="#000" stroke-width="1.8"/>
<path d="M919.40,1232.70 L933.80,1241.30 L919.40,1249.90 Z" fill="#fff" stroke="#000" stroke-width="2.3" stroke-linejoin="miter"/>
<rect x="923.00" y="1240.10" width="2.6" height="2.4" fill="#000"/>
<line x1="997.68" y1="1279.10" x2="997.68" y2="1298.10" stroke="#000" stroke-width="1.8"/>
<line x1="996.18" y1="1281.10" x2="1002.68" y2="1281.10" stroke="#000" stroke-width="1.8"/>
<line x1="996.18" y1="1296.10" x2="1002.68" y2="1296.10" stroke="#000" stroke-width="1.8"/>
<path d="M992.88,1280.00 L1007.28,1288.60 L992.88,1297.20 Z" fill="#fff" stroke="#000" stroke-width="2.3" stroke-linejoin="miter"/>
<rect x="996.48" y="1287.40" width="2.6" height="2.4" fill="#000"/>
<line x1="1071.17" y1="1328.70" x2="1071.17" y2="1347.70" stroke="#000" stroke-width="1.8"/>
<line x1="1069.67" y1="1330.70" x2="1076.17" y2="1330.70" stroke="#000" stroke-width="1.8"/>
<line x1="1069.67" y1="1345.70" x2="1076.17" y2="1345.70" stroke="#000" stroke-width="1.8"/>
<path d="M1066.37,1329.60 L1080.77,1338.20 L1066.37,1346.80 Z" fill="#fff" stroke="#000" stroke-width="2.3" stroke-linejoin="miter"/>
<rect x="1069.97" y="1337.00" width="2.6" height="2.4" fill="#000"/>
<line x1="1144.65" y1="1381.00" x2="1144.65" y2="1400.00" stroke="#000" stroke-width="1.8"/>
<line x1="1143.15" y1="1383.00" x2="1149.65" y2="1383.00" stroke="#000" stroke-width="1.8"/>
<line x1="1143.15" y1="1398.00" x2="1149.65" y2="1398.00" stroke="#000" stroke-width="1.8"/>
<path d="M1139.85,1381.90 L1154.25,1390.50 L1139.85,1399.10 Z" fill="#fff" stroke="#000" stroke-width="2.3" stroke-linejoin="miter"/>
<rect x="1143.45" y="1389.30" width="2.6" height="2.4" fill="#000"/>
<line x1="1218.13" y1="1430.50" x2="1218.13" y2="1449.50" stroke="#000" stroke-width="1.8"/>
<line x1="1216.63" y1="1432.50" x2="1223.13" y2="1432.50" stroke="#000" stroke-width="1.8"/>
<line x1="1216.63" y1="1447.50" x2="1223.13" y2="1447.50" stroke="#000" stroke-width="1.8"/>
<path d="M1213.33,1431.40 L1227.73,1440.00 L1213.33,1448.60 Z" fill="#fff" stroke="#000" stroke-width="2.3" stroke-linejoin="miter"/>
<rect x="1216.93" y="1438.80" width="2.6" height="2.4" fill="#000"/>
<line x1="1291.62" y1="1479.70" x2="1291.62" y2="1498.70" stroke="#000" stroke-width="1.8"/>
<line x1="1290.12" y1="1481.70" x2="1296.62" y2="1481.70" stroke="#000" stroke-width="1.8"/>
<line x1="1290.12" y1="1496.70" x2="1296.62" y2="1496.70" stroke="#000" stroke-width="1.8"/>
<path d="M1286.82,1480.60 L1301.22,1489.20 L1286.82,1497.80 Z" fill="#fff" stroke="#000" stroke-width="2.3" stroke-linejoin="miter"/>
<rect x="1290.42" y="1488.00" width="2.6" height="2.4" fill="#000"/>
<line x1="1365.10" y1="1517.10" x2="1365.10" y2="1536.10" stroke="#000" stroke-width="1.8"/>
<line x1="1363.60" y1="1519.10" x2="1370.10" y2="1519.10" stroke="#000" stroke-width="1.8"/>
<line x1="1363.60" y1="1534.10" x2="1370.10" y2="1534.10" stroke="#000" stroke-width="1.8"/>
<path d="M1360.30,1518.00 L1374.70,1526.60 L1360.30,1535.20 Z" fill="#fff" stroke="#000" stroke-width="2.3" stroke-linejoin="miter"/>
<rect x="1363.90" y="1525.40" width="2.6" height="2.4" fill="#000"/>
<rect x="233.4" y="1179.3" width="152.79999999999998" height="384.60000000000014" fill="#ECECF3"/>
<rect x="464.4" y="1179.3" width="153.10000000000002" height="384.60000000000014" fill="#FDF2E4"/>
<line x1="155.60" y1="1372.00" x2="678.20" y2="1372.00" stroke="#EF8383" stroke-width="1.9" stroke-dasharray="13.8 10.1" stroke-dashoffset="6.4"/>
<rect x="158.6" y="1179.3" width="519.6" height="384.60000000000014" fill="none" stroke="#000" stroke-width="2.6"/>
<line x1="158.60" y1="1525.40" x2="150.10" y2="1525.40" stroke="#000" stroke-width="2.2"/>
<text x="137.50" y="1535.70" font-size="29.3" text-anchor="end" transform="translate(137.50 1535.70) scale(1.0 1.04) translate(-137.50 -1535.70)">60%</text>
<line x1="158.60" y1="1487.00" x2="154.10" y2="1487.00" stroke="#000" stroke-width="2.2"/>
<line x1="158.60" y1="1448.60" x2="150.10" y2="1448.60" stroke="#000" stroke-width="2.2"/>
<text x="137.50" y="1458.90" font-size="29.3" text-anchor="end" transform="translate(137.50 1458.90) scale(1.0 1.04) translate(-137.50 -1458.90)">80%</text>
<line x1="158.60" y1="1410.20" x2="154.10" y2="1410.20" stroke="#000" stroke-width="2.2"/>
<line x1="158.60" y1="1371.80" x2="150.10" y2="1371.80" stroke="#000" stroke-width="2.2"/>
<text x="137.50" y="1382.10" font-size="29.3" text-anchor="end" transform="translate(137.50 1382.10) scale(1.0 1.04) translate(-137.50 -1382.10)">100%</text>
<line x1="158.60" y1="1333.40" x2="154.10" y2="1333.40" stroke="#000" stroke-width="2.2"/>
<line x1="158.60" y1="1295.00" x2="150.10" y2="1295.00" stroke="#000" stroke-width="2.2"/>
<text x="137.50" y="1305.30" font-size="29.3" text-anchor="end" transform="translate(137.50 1305.30) scale(1.0 1.04) translate(-137.50 -1305.30)">120%</text>
<line x1="158.60" y1="1256.60" x2="154.10" y2="1256.60" stroke="#000" stroke-width="2.2"/>
<line x1="158.60" y1="1218.20" x2="150.10" y2="1218.20" stroke="#000" stroke-width="2.2"/>
<text x="137.50" y="1228.50" font-size="29.3" text-anchor="end" transform="translate(137.50 1228.50) scale(1.0 1.04) translate(-137.50 -1228.50)">140%</text>
<rect x="241.40" y="1374.00" width="8" height="8" fill="#F5AF5F" fill-opacity="0.9"/>
<rect x="263.20" y="1372.50" width="8" height="8" fill="#F5AF5F" fill-opacity="0.9"/>
<rect x="284.60" y="1373.90" width="8" height="8" fill="#F5AF5F" fill-opacity="0.9"/>
<rect x="306.10" y="1375.00" width="8" height="8" fill="#F5AF5F" fill-opacity="0.9"/>
<rect x="328.00" y="1376.80" width="8" height="8" fill="#F5AF5F" fill-opacity="0.9"/>
<rect x="349.80" y="1378.00" width="8" height="8" fill="#F5AF5F" fill-opacity="0.9"/>
<rect x="370.90" y="1378.00" width="8" height="8" fill="#F5AF5F" fill-opacity="0.9"/>
<path d="M245.40,1376.50 L250.60,1385.50 L240.20,1385.50 Z" fill="#6466B4" fill-opacity="0.9"/>
<path d="M267.20,1372.60 L272.40,1381.60 L262.00,1381.60 Z" fill="#6466B4" fill-opacity="0.9"/>
<path d="M288.60,1380.50 L293.80,1389.50 L283.40,1389.50 Z" fill="#6466B4" fill-opacity="0.9"/>
<path d="M310.10,1373.00 L315.30,1382.00 L304.90,1382.00 Z" fill="#6466B4" fill-opacity="0.9"/>
<path d="M332.00,1370.50 L337.20,1379.50 L326.80,1379.50 Z" fill="#6466B4" fill-opacity="0.9"/>
<path d="M353.80,1373.00 L359.00,1382.00 L348.60,1382.00 Z" fill="#6466B4" fill-opacity="0.9"/>
<path d="M374.90,1373.00 L380.10,1382.00 L369.70,1382.00 Z" fill="#6466B4" fill-opacity="0.9"/>
<circle cx="245.40" cy="1383.00" r="4.4" fill="#B45EA8" fill-opacity="0.85"/>
<circle cx="267.20" cy="1383.70" r="4.4" fill="#B45EA8" fill-opacity="0.85"/>
<circle cx="288.60" cy="1380.10" r="4.4" fill="#B45EA8" fill-opacity="0.85"/>
<circle cx="310.10" cy="1387.20" r="4.4" fill="#B45EA8" fill-opacity="0.85"/>
<circle cx="332.00" cy="1385.00" r="4.4" fill="#B45EA8" fill-opacity="0.85"/>
<circle cx="353.80" cy="1378.70" r="4.4" fill="#B45EA8" fill-opacity="0.85"/>
<circle cx="374.90" cy="1373.50" r="4.4" fill="#B45EA8" fill-opacity="0.85"/>
<rect x="501.10" y="1353.70" width="8" height="8" fill="#F5AF5F" fill-opacity="1"/>
<rect x="522.80" y="1360.20" width="8" height="8" fill="#F5AF5F" fill-opacity="1"/>
<rect x="544.50" y="1354.20" width="8" height="8" fill="#F5AF5F" fill-opacity="1"/>
<rect x="565.90" y="1347.90" width="8" height="8" fill="#F5AF5F" fill-opacity="1"/>
<rect x="587.60" y="1338.30" width="8" height="8" fill="#F5AF5F" fill-opacity="1"/>
<path d="M505.10,1323.50 L510.30,1332.50 L499.90,1332.50 Z" fill="#6466B4" fill-opacity="1"/>
<path d="M526.80,1328.90 L532.00,1337.90 L521.60,1337.90 Z" fill="#6466B4" fill-opacity="1"/>
<path d="M548.50,1325.40 L553.70,1334.40 L543.30,1334.40 Z" fill="#6466B4" fill-opacity="1"/>
<path d="M569.90,1321.70 L575.10,1330.70 L564.70,1330.70 Z" fill="#6466B4" fill-opacity="1"/>
<path d="M591.60,1316.50 L596.80,1325.50 L586.40,1325.50 Z" fill="#6466B4" fill-opacity="1"/>
<circle cx="505.10" cy="1256.80" r="4.4" fill="#B96EA5" fill-opacity="1"/>
<circle cx="526.80" cy="1279.90" r="4.4" fill="#B96EA5" fill-opacity="1"/>
<circle cx="548.50" cy="1286.50" r="4.4" fill="#B96EA5" fill-opacity="1"/>
<circle cx="569.90" cy="1283.10" r="4.4" fill="#B96EA5" fill-opacity="1"/>
<circle cx="591.60" cy="1293.50" r="4.4" fill="#B96EA5" fill-opacity="1"/>
<rect x="191.10" y="1214.10" width="8" height="8" fill="#F5AF5F" fill-opacity="1"/>
<path d="M195.10,1244.30 L200.30,1253.30 L189.90,1253.30 Z" fill="#6466B4" fill-opacity="1"/>
<circle cx="195.10" cy="1285.00" r="4.4" fill="#B96EA5" fill-opacity="1"/>
<text x="212.00" y="1221.80" font-size="24" transform="translate(212.00 1221.80) scale(1.0 1.04) translate(-212.00 -1221.80)">1 mm</text>
<text x="212.00" y="1257.50" font-size="24" transform="translate(212.00 1257.50) scale(1.0 1.04) translate(-212.00 -1257.50)">2 mm</text>
<text x="212.00" y="1292.50" font-size="24" transform="translate(212.00 1292.50) scale(1.0 1.04) translate(-212.00 -1292.50)">3 mm</text>
<text x="233.20" y="1476.70" font-size="29.3" transform="translate(233.20 1476.70) scale(1.0 1.04) translate(-233.20 -1476.70)">This work</text>
<text x="542.70" y="1436.60" font-size="29.3" text-anchor="middle" transform="translate(542.70 1436.60) scale(1.0 1.04) translate(-542.70 -1436.60)">Conventional</text>
<text x="542.70" y="1472.50" font-size="29.3" text-anchor="middle" transform="translate(542.70 1472.50) scale(1.0 1.04) translate(-542.70 -1472.50)">ratiometric</text>
<text x="542.70" y="1506.10" font-size="29.3" text-anchor="middle" transform="translate(542.70 1506.10) scale(1.0 1.04) translate(-542.70 -1506.10)">thermometry</text>
<g transform="translate(33.40 1539.30) rotate(-90)">
<text x="1.60" y="0.00" font-size="29.3" transform="translate(1.60 0.00) scale(1.0 1.04) translate(-1.60 0.00)">Ratio</text>
<text x="71.00" y="8.30" font-size="20.8" transform="translate(71.00 8.30) scale(1.0 1.04) translate(-71.00 -8.30)">Tissue blocking</text>
<text x="214.20" y="0.00" font-size="29.3" transform="translate(214.20 0.00) scale(1.0 1.04) translate(-214.20 0.00)">/</text>
<text x="222.60" y="0.00" font-size="29.3" transform="translate(222.60 0.00) scale(1.0 1.04) translate(-222.60 0.00)">Ratio</text>
<text x="290.90" y="8.30" font-size="20.8" transform="translate(290.90 8.30) scale(1.0 1.04) translate(-290.90 -8.30)">True</text>
</g>
</svg></body></html>
